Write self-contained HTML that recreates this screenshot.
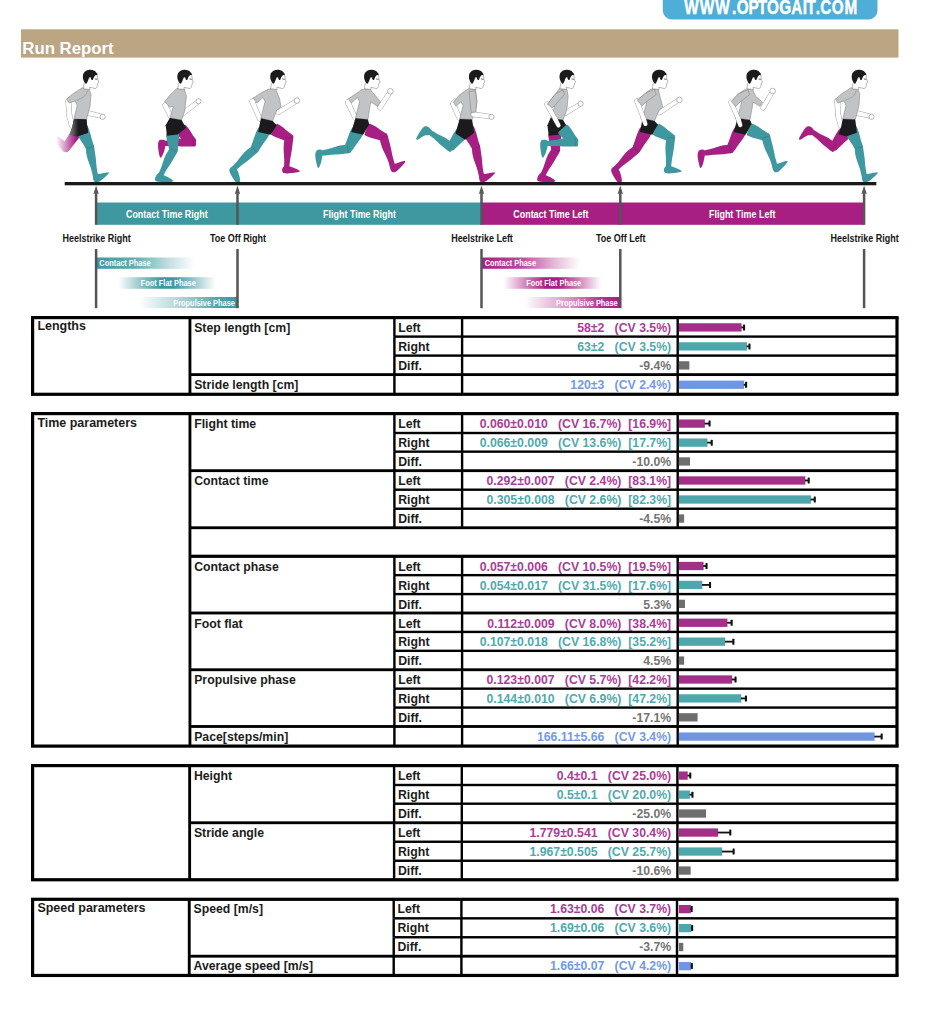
<!DOCTYPE html>
<html lang="en">
<head>
<meta charset="utf-8">
<title>Run Report</title>
<style>
html,body{margin:0;padding:0;background:#fff}
body{width:938px;height:1024px;position:relative;overflow:hidden;font-family:"Liberation Sans",sans-serif}
svg.g{position:absolute;left:0;top:0}
.t{position:absolute;white-space:pre;font-weight:bold;font-size:12.27px;line-height:19.03px;height:19.03px;color:#1c1c1c}
.v{left:462px;width:209.2px;text-align:right}
</style>
</head>
<body>
<svg class="g" width="938" height="1024" viewBox="0 0 938 1024">
<rect x="21" y="29.3" width="877.5" height="28.3" fill="#bba583"/>
<path d="M662.8 -5 H877.5 V10.2 A9 9 0 0 1 868.5 19.4 H671.8 A9 9 0 0 1 662.8 10.2 Z" fill="#4faed7"/>
<text transform="scale(0.78 1)" x="877.29 897.16 917.16 938.43 944.43 959.62 971.58 983.4 999.04 1014.33 1029.33 1034.14 1045.74 1051.51 1066.48 1082.61" y="13.9" font-family="Liberation Sans, sans-serif" font-weight="bold" font-size="19.6" fill="#fff" stroke="#fff" stroke-width="0.45">WWW.OPTOGAIT.COM</text>
<rect x="31" y="316" width="867.6" height="3.2" fill="#000"/>
<rect x="31" y="392.7" width="867.6" height="3.2" fill="#000"/>
<rect x="31" y="317.6" width="3.2" height="76.7" fill="#000"/>
<rect x="895.4" y="317.6" width="3.2" height="76.7" fill="#000"/>
<rect x="188.52" y="317.6" width="2.85" height="76.7" fill="#000"/>
<rect x="393.2" y="317.6" width="2.4" height="19" fill="#000"/>
<rect x="460.9" y="317.6" width="2.4" height="19" fill="#000"/>
<rect x="676.5" y="317.6" width="2.4" height="19" fill="#000"/>
<rect x="678.9" y="323.25" width="62.64" height="8.3" fill="#a42f89"/>
<rect x="741.24" y="326.5" width="2.96" height="1.8" fill="#111"/>
<rect x="743" y="324.4" width="2.1" height="6" fill="#111" rx="0.5"/>
<rect x="393.2" y="336.6" width="2.4" height="19" fill="#000"/>
<rect x="460.9" y="336.6" width="2.4" height="19" fill="#000"/>
<rect x="676.5" y="336.6" width="2.4" height="19" fill="#000"/>
<rect x="394.4" y="335.4" width="502.6" height="2.4" fill="#000"/>
<rect x="678.9" y="342.25" width="68.04" height="8.3" fill="#4da7ab"/>
<rect x="746.64" y="345.5" width="2.96" height="1.8" fill="#111"/>
<rect x="748.4" y="343.4" width="2.1" height="6" fill="#111" rx="0.5"/>
<rect x="393.2" y="355.6" width="2.4" height="19" fill="#000"/>
<rect x="460.9" y="355.6" width="2.4" height="19" fill="#000"/>
<rect x="676.5" y="355.6" width="2.4" height="19" fill="#000"/>
<rect x="394.4" y="354.4" width="502.6" height="2.4" fill="#000"/>
<rect x="678.9" y="361.25" width="10.46" height="8.3" fill="#6e6e6e"/>
<rect x="393.2" y="374.6" width="2.4" height="19.7" fill="#000"/>
<rect x="460.9" y="374.6" width="2.4" height="19.7" fill="#000"/>
<rect x="676.5" y="374.6" width="2.4" height="19.7" fill="#000"/>
<rect x="190.1" y="373.18" width="706.9" height="2.85" fill="#000"/>
<rect x="678.9" y="380.6" width="65.2" height="8.3" fill="#7096e3"/>
<rect x="743.8" y="383.85" width="2.42" height="1.8" fill="#111"/>
<rect x="745.02" y="381.75" width="2.1" height="6" fill="#111" rx="0.5"/>
<rect x="31" y="412" width="867.6" height="3.2" fill="#000"/>
<rect x="31" y="744.5" width="867.6" height="3.2" fill="#000"/>
<rect x="31" y="413.6" width="3.2" height="332.5" fill="#000"/>
<rect x="895.4" y="413.6" width="3.2" height="332.5" fill="#000"/>
<rect x="188.52" y="413.6" width="2.85" height="332.5" fill="#000"/>
<rect x="393.2" y="413.6" width="2.4" height="19.4" fill="#000"/>
<rect x="460.9" y="413.6" width="2.4" height="19.4" fill="#000"/>
<rect x="676.5" y="413.6" width="2.4" height="19.4" fill="#000"/>
<rect x="678.9" y="419.45" width="25.98" height="8.3" fill="#a42f89"/>
<rect x="704.58" y="422.7" width="5.13" height="1.8" fill="#111"/>
<rect x="708.51" y="420.6" width="2.1" height="6" fill="#111" rx="0.5"/>
<rect x="393.2" y="433" width="2.4" height="18.65" fill="#000"/>
<rect x="460.9" y="433" width="2.4" height="18.65" fill="#000"/>
<rect x="676.5" y="433" width="2.4" height="18.65" fill="#000"/>
<rect x="394.4" y="431.8" width="502.6" height="2.4" fill="#000"/>
<rect x="678.9" y="438.48" width="28.58" height="8.3" fill="#4da7ab"/>
<rect x="707.18" y="441.73" width="4.7" height="1.8" fill="#111"/>
<rect x="710.67" y="439.63" width="2.1" height="6" fill="#111" rx="0.5"/>
<rect x="393.2" y="451.65" width="2.4" height="19.02" fill="#000"/>
<rect x="460.9" y="451.65" width="2.4" height="19.02" fill="#000"/>
<rect x="676.5" y="451.65" width="2.4" height="19.02" fill="#000"/>
<rect x="394.4" y="450.45" width="502.6" height="2.4" fill="#000"/>
<rect x="678.9" y="457.31" width="11.1" height="8.3" fill="#6e6e6e"/>
<rect x="393.2" y="470.68" width="2.4" height="19.03" fill="#000"/>
<rect x="460.9" y="470.68" width="2.4" height="19.03" fill="#000"/>
<rect x="676.5" y="470.68" width="2.4" height="19.03" fill="#000"/>
<rect x="190.1" y="469.25" width="706.9" height="2.85" fill="#000"/>
<rect x="678.9" y="476.34" width="126.44" height="8.3" fill="#a42f89"/>
<rect x="805.04" y="479.59" width="3.83" height="1.8" fill="#111"/>
<rect x="807.67" y="477.49" width="2.1" height="6" fill="#111" rx="0.5"/>
<rect x="393.2" y="489.7" width="2.4" height="19.02" fill="#000"/>
<rect x="460.9" y="489.7" width="2.4" height="19.02" fill="#000"/>
<rect x="676.5" y="489.7" width="2.4" height="19.02" fill="#000"/>
<rect x="394.4" y="488.5" width="502.6" height="2.4" fill="#000"/>
<rect x="678.9" y="495.36" width="132.06" height="8.3" fill="#4da7ab"/>
<rect x="810.66" y="498.61" width="4.26" height="1.8" fill="#111"/>
<rect x="813.73" y="496.51" width="2.1" height="6" fill="#111" rx="0.5"/>
<rect x="393.2" y="508.73" width="2.4" height="19.02" fill="#000"/>
<rect x="460.9" y="508.73" width="2.4" height="19.02" fill="#000"/>
<rect x="676.5" y="508.73" width="2.4" height="19.02" fill="#000"/>
<rect x="394.4" y="507.53" width="502.6" height="2.4" fill="#000"/>
<rect x="678.9" y="514.39" width="5.22" height="8.3" fill="#6e6e6e"/>
<rect x="190.1" y="526.33" width="706.9" height="2.85" fill="#000"/>
<rect x="190.1" y="554.83" width="706.9" height="2.85" fill="#000"/>
<rect x="393.2" y="556.25" width="2.4" height="18.91" fill="#000"/>
<rect x="460.9" y="556.25" width="2.4" height="18.91" fill="#000"/>
<rect x="676.5" y="556.25" width="2.4" height="18.91" fill="#000"/>
<rect x="190.1" y="554.83" width="706.9" height="2.85" fill="#000"/>
<rect x="678.9" y="561.86" width="24.68" height="8.3" fill="#a42f89"/>
<rect x="703.28" y="565.11" width="3.4" height="1.8" fill="#111"/>
<rect x="705.48" y="563.01" width="2.1" height="6" fill="#111" rx="0.5"/>
<rect x="393.2" y="575.16" width="2.4" height="18.92" fill="#000"/>
<rect x="460.9" y="575.16" width="2.4" height="18.92" fill="#000"/>
<rect x="676.5" y="575.16" width="2.4" height="18.92" fill="#000"/>
<rect x="394.4" y="573.96" width="502.6" height="2.4" fill="#000"/>
<rect x="678.9" y="580.77" width="23.38" height="8.3" fill="#4da7ab"/>
<rect x="701.98" y="584.02" width="8.16" height="1.8" fill="#111"/>
<rect x="708.94" y="581.92" width="2.1" height="6" fill="#111" rx="0.5"/>
<rect x="393.2" y="594.08" width="2.4" height="18.91" fill="#000"/>
<rect x="460.9" y="594.08" width="2.4" height="18.91" fill="#000"/>
<rect x="676.5" y="594.08" width="2.4" height="18.91" fill="#000"/>
<rect x="394.4" y="592.88" width="502.6" height="2.4" fill="#000"/>
<rect x="678.9" y="599.69" width="6.07" height="8.3" fill="#6e6e6e"/>
<rect x="393.2" y="613" width="2.4" height="18.91" fill="#000"/>
<rect x="460.9" y="613" width="2.4" height="18.91" fill="#000"/>
<rect x="676.5" y="613" width="2.4" height="18.91" fill="#000"/>
<rect x="190.1" y="611.57" width="706.9" height="2.85" fill="#000"/>
<rect x="678.9" y="618.6" width="48.5" height="8.3" fill="#a42f89"/>
<rect x="727.1" y="621.85" width="4.7" height="1.8" fill="#111"/>
<rect x="730.59" y="619.75" width="2.1" height="6" fill="#111" rx="0.5"/>
<rect x="393.2" y="631.91" width="2.4" height="18.92" fill="#000"/>
<rect x="460.9" y="631.91" width="2.4" height="18.92" fill="#000"/>
<rect x="676.5" y="631.91" width="2.4" height="18.92" fill="#000"/>
<rect x="394.4" y="630.71" width="502.6" height="2.4" fill="#000"/>
<rect x="678.9" y="637.52" width="46.33" height="8.3" fill="#4da7ab"/>
<rect x="724.93" y="640.77" width="8.59" height="1.8" fill="#111"/>
<rect x="732.32" y="638.67" width="2.1" height="6" fill="#111" rx="0.5"/>
<rect x="393.2" y="650.83" width="2.4" height="18.91" fill="#000"/>
<rect x="460.9" y="650.83" width="2.4" height="18.91" fill="#000"/>
<rect x="676.5" y="650.83" width="2.4" height="18.91" fill="#000"/>
<rect x="394.4" y="649.62" width="502.6" height="2.4" fill="#000"/>
<rect x="678.9" y="656.43" width="5.22" height="8.3" fill="#6e6e6e"/>
<rect x="393.2" y="669.74" width="2.4" height="18.91" fill="#000"/>
<rect x="460.9" y="669.74" width="2.4" height="18.91" fill="#000"/>
<rect x="676.5" y="669.74" width="2.4" height="18.91" fill="#000"/>
<rect x="190.1" y="668.32" width="706.9" height="2.85" fill="#000"/>
<rect x="678.9" y="675.35" width="53.26" height="8.3" fill="#a42f89"/>
<rect x="731.86" y="678.6" width="3.83" height="1.8" fill="#111"/>
<rect x="734.49" y="676.5" width="2.1" height="6" fill="#111" rx="0.5"/>
<rect x="393.2" y="688.65" width="2.4" height="18.91" fill="#000"/>
<rect x="460.9" y="688.65" width="2.4" height="18.91" fill="#000"/>
<rect x="676.5" y="688.65" width="2.4" height="18.91" fill="#000"/>
<rect x="394.4" y="687.45" width="502.6" height="2.4" fill="#000"/>
<rect x="678.9" y="694.26" width="62.35" height="8.3" fill="#4da7ab"/>
<rect x="740.95" y="697.51" width="5.13" height="1.8" fill="#111"/>
<rect x="744.88" y="695.41" width="2.1" height="6" fill="#111" rx="0.5"/>
<rect x="393.2" y="707.57" width="2.4" height="18.92" fill="#000"/>
<rect x="460.9" y="707.57" width="2.4" height="18.92" fill="#000"/>
<rect x="676.5" y="707.57" width="2.4" height="18.92" fill="#000"/>
<rect x="394.4" y="706.37" width="502.6" height="2.4" fill="#000"/>
<rect x="678.9" y="713.18" width="18.7" height="8.3" fill="#6e6e6e"/>
<rect x="393.2" y="726.49" width="2.4" height="19.62" fill="#000"/>
<rect x="460.9" y="726.49" width="2.4" height="19.62" fill="#000"/>
<rect x="676.5" y="726.49" width="2.4" height="19.62" fill="#000"/>
<rect x="190.1" y="725.06" width="706.9" height="2.85" fill="#000"/>
<rect x="678.9" y="732.44" width="195.7" height="8.3" fill="#7096e3"/>
<rect x="874.3" y="735.69" width="7.5" height="1.8" fill="#111"/>
<rect x="880.6" y="733.59" width="2.1" height="6" fill="#111" rx="0.5"/>
<rect x="31" y="764" width="867.6" height="3.2" fill="#000"/>
<rect x="31" y="878.15" width="867.6" height="3.2" fill="#000"/>
<rect x="31" y="765.6" width="3.2" height="114.15" fill="#000"/>
<rect x="895.4" y="765.6" width="3.2" height="114.15" fill="#000"/>
<rect x="188.22" y="765.6" width="2.85" height="114.15" fill="#000"/>
<rect x="392.9" y="765.6" width="2.4" height="19.4" fill="#000"/>
<rect x="460.6" y="765.6" width="2.4" height="19.4" fill="#000"/>
<rect x="676.2" y="765.6" width="2.4" height="19.4" fill="#000"/>
<rect x="678.9" y="771.45" width="8.8" height="8.3" fill="#a42f89"/>
<rect x="687.4" y="774.7" width="3" height="1.8" fill="#111"/>
<rect x="689.2" y="772.6" width="2.1" height="6" fill="#111" rx="0.5"/>
<rect x="392.9" y="785" width="2.4" height="18.7" fill="#000"/>
<rect x="460.6" y="785" width="2.4" height="18.7" fill="#000"/>
<rect x="676.2" y="785" width="2.4" height="18.7" fill="#000"/>
<rect x="394.4" y="783.8" width="502.6" height="2.4" fill="#000"/>
<rect x="678.9" y="790.5" width="11" height="8.3" fill="#4da7ab"/>
<rect x="689.6" y="793.75" width="3" height="1.8" fill="#111"/>
<rect x="691.4" y="791.65" width="2.1" height="6" fill="#111" rx="0.5"/>
<rect x="392.9" y="803.7" width="2.4" height="19.05" fill="#000"/>
<rect x="460.6" y="803.7" width="2.4" height="19.05" fill="#000"/>
<rect x="676.2" y="803.7" width="2.4" height="19.05" fill="#000"/>
<rect x="394.4" y="802.5" width="502.6" height="2.4" fill="#000"/>
<rect x="678.9" y="809.38" width="27.15" height="8.3" fill="#6e6e6e"/>
<rect x="392.9" y="822.75" width="2.4" height="19" fill="#000"/>
<rect x="460.6" y="822.75" width="2.4" height="19" fill="#000"/>
<rect x="676.2" y="822.75" width="2.4" height="19" fill="#000"/>
<rect x="190.1" y="821.33" width="706.9" height="2.85" fill="#000"/>
<rect x="678.9" y="828.4" width="39.14" height="8.3" fill="#a42f89"/>
<rect x="717.74" y="831.65" width="12.7" height="1.8" fill="#111"/>
<rect x="729.24" y="829.55" width="2.1" height="6" fill="#111" rx="0.5"/>
<rect x="392.9" y="841.75" width="2.4" height="19" fill="#000"/>
<rect x="460.6" y="841.75" width="2.4" height="19" fill="#000"/>
<rect x="676.2" y="841.75" width="2.4" height="19" fill="#000"/>
<rect x="394.4" y="840.55" width="502.6" height="2.4" fill="#000"/>
<rect x="678.9" y="847.4" width="43.27" height="8.3" fill="#4da7ab"/>
<rect x="721.87" y="850.65" width="11.91" height="1.8" fill="#111"/>
<rect x="732.58" y="848.55" width="2.1" height="6" fill="#111" rx="0.5"/>
<rect x="392.9" y="860.75" width="2.4" height="19" fill="#000"/>
<rect x="460.6" y="860.75" width="2.4" height="19" fill="#000"/>
<rect x="676.2" y="860.75" width="2.4" height="19" fill="#000"/>
<rect x="394.4" y="859.55" width="502.6" height="2.4" fill="#000"/>
<rect x="678.9" y="866.4" width="11.74" height="8.3" fill="#6e6e6e"/>
<rect x="31" y="897.7" width="867.6" height="3.2" fill="#000"/>
<rect x="31" y="973.85" width="867.6" height="3.2" fill="#000"/>
<rect x="31" y="899.3" width="3.2" height="76.15" fill="#000"/>
<rect x="895.4" y="899.3" width="3.2" height="76.15" fill="#000"/>
<rect x="187.82" y="899.3" width="2.85" height="76.15" fill="#000"/>
<rect x="392.5" y="899.3" width="2.4" height="19.03" fill="#000"/>
<rect x="460.2" y="899.3" width="2.4" height="19.03" fill="#000"/>
<rect x="675.8" y="899.3" width="2.4" height="19.03" fill="#000"/>
<rect x="678.9" y="904.97" width="11.98" height="8.3" fill="#a42f89"/>
<rect x="690.58" y="908.22" width="1.24" height="1.8" fill="#111"/>
<rect x="690.62" y="906.12" width="2.1" height="6" fill="#111" rx="0.5"/>
<rect x="392.5" y="918.33" width="2.4" height="18.93" fill="#000"/>
<rect x="460.2" y="918.33" width="2.4" height="18.93" fill="#000"/>
<rect x="675.8" y="918.33" width="2.4" height="18.93" fill="#000"/>
<rect x="394.4" y="917.13" width="502.6" height="2.4" fill="#000"/>
<rect x="678.9" y="923.95" width="12.42" height="8.3" fill="#4da7ab"/>
<rect x="691.02" y="927.2" width="1.24" height="1.8" fill="#111"/>
<rect x="691.06" y="925.1" width="2.1" height="6" fill="#111" rx="0.5"/>
<rect x="392.5" y="937.26" width="2.4" height="18.94" fill="#000"/>
<rect x="460.2" y="937.26" width="2.4" height="18.94" fill="#000"/>
<rect x="675.8" y="937.26" width="2.4" height="18.94" fill="#000"/>
<rect x="394.4" y="936.06" width="502.6" height="2.4" fill="#000"/>
<rect x="678.9" y="942.88" width="4.36" height="8.3" fill="#6e6e6e"/>
<rect x="392.5" y="956.2" width="2.4" height="19.25" fill="#000"/>
<rect x="460.2" y="956.2" width="2.4" height="19.25" fill="#000"/>
<rect x="675.8" y="956.2" width="2.4" height="19.25" fill="#000"/>
<rect x="190.1" y="954.78" width="706.9" height="2.85" fill="#000"/>
<rect x="678.9" y="961.98" width="12.2" height="8.3" fill="#7096e3"/>
<rect x="690.8" y="965.23" width="1.2" height="1.8" fill="#111"/>
<rect x="690.8" y="963.12" width="2.1" height="6" fill="#111" rx="0.5"/>
<defs><linearGradient id="gT1" x1="0" x2="1"><stop offset="0" stop-color="#3f98a0"/><stop offset="0.4" stop-color="#3f98a0" stop-opacity="0.8"/><stop offset="0.75" stop-color="#3f98a0" stop-opacity="0.3"/><stop offset="1" stop-color="#3f98a0" stop-opacity="0"/></linearGradient><linearGradient id="gT2" x1="0" x2="1"><stop offset="0" stop-color="#3f98a0" stop-opacity="0"/><stop offset="0.25" stop-color="#3f98a0" stop-opacity="0.6"/><stop offset="0.44" stop-color="#3f98a0"/><stop offset="0.56" stop-color="#3f98a0"/><stop offset="0.75" stop-color="#3f98a0" stop-opacity="0.6"/><stop offset="1" stop-color="#3f98a0" stop-opacity="0"/></linearGradient><linearGradient id="gT3" x1="0" x2="1"><stop offset="0" stop-color="#3f98a0" stop-opacity="0"/><stop offset="0.5" stop-color="#3f98a0" stop-opacity="0.5"/><stop offset="0.8" stop-color="#3f98a0" stop-opacity="0.9"/><stop offset="1" stop-color="#3f98a0"/></linearGradient><linearGradient id="gM1" x1="0" x2="1"><stop offset="0" stop-color="#a71f82"/><stop offset="0.4" stop-color="#a71f82" stop-opacity="0.8"/><stop offset="0.75" stop-color="#a71f82" stop-opacity="0.3"/><stop offset="1" stop-color="#a71f82" stop-opacity="0"/></linearGradient><linearGradient id="gM2" x1="0" x2="1"><stop offset="0" stop-color="#a71f82" stop-opacity="0"/><stop offset="0.25" stop-color="#a71f82" stop-opacity="0.6"/><stop offset="0.44" stop-color="#a71f82"/><stop offset="0.56" stop-color="#a71f82"/><stop offset="0.75" stop-color="#a71f82" stop-opacity="0.6"/><stop offset="1" stop-color="#a71f82" stop-opacity="0"/></linearGradient><linearGradient id="gM3" x1="0" x2="1"><stop offset="0" stop-color="#a71f82" stop-opacity="0"/><stop offset="0.5" stop-color="#a71f82" stop-opacity="0.5"/><stop offset="0.8" stop-color="#a71f82" stop-opacity="0.9"/><stop offset="1" stop-color="#a71f82"/></linearGradient><linearGradient id="gFade" gradientUnits="userSpaceOnUse" x1="56" x2="76"><stop offset="0" stop-color="#000"/><stop offset="1" stop-color="#fff"/></linearGradient><mask id="fadeA" maskUnits="userSpaceOnUse" x="40" y="120" width="60" height="50"><rect x="40" y="120" width="60" height="50" fill="url(#gFade)"/></mask></defs>
<rect x="96.1" y="202.5" width="385.4" height="22.3" fill="#3f98a0"/>
<rect x="481.5" y="202.5" width="382.6" height="22.3" fill="#a71f82"/>
<rect x="96.1" y="257.5" width="98.5" height="11.3" fill="url(#gT1)"/><rect x="118.1" y="277.2" width="97.5" height="11.6" fill="url(#gT2)"/><rect x="138.6" y="297" width="98.9" height="11" fill="url(#gT3)"/>
<rect x="481.5" y="257.5" width="98.5" height="11.3" fill="url(#gM1)"/><rect x="503.5" y="277.2" width="97.5" height="11.6" fill="url(#gM2)"/><rect x="524" y="297" width="96.3" height="11" fill="url(#gM3)"/>
<rect x="94.85" y="191" width="2.5" height="33.8" fill="#555557"/>
<rect x="94.85" y="249" width="2.5" height="59.2" fill="#555557"/>
<path d="M96.1 185.5 l2.7 8.6 l-2.7 -1.2 l-2.7 1.2 Z" fill="#59595b"/>
<rect x="236.25" y="191" width="2.5" height="33.8" fill="#555557"/>
<rect x="236.25" y="249" width="2.5" height="59.2" fill="#555557"/>
<path d="M237.5 185.5 l2.7 8.6 l-2.7 -1.2 l-2.7 1.2 Z" fill="#59595b"/>
<rect x="480.25" y="191" width="2.5" height="33.8" fill="#555557"/>
<rect x="480.25" y="249" width="2.5" height="59.2" fill="#555557"/>
<path d="M481.5 185.5 l2.7 8.6 l-2.7 -1.2 l-2.7 1.2 Z" fill="#59595b"/>
<rect x="619.05" y="191" width="2.5" height="33.8" fill="#555557"/>
<rect x="619.05" y="249" width="2.5" height="59.2" fill="#555557"/>
<path d="M620.3 185.5 l2.7 8.6 l-2.7 -1.2 l-2.7 1.2 Z" fill="#59595b"/>
<rect x="862.85" y="191" width="2.5" height="33.8" fill="#555557"/>
<rect x="862.85" y="249" width="2.5" height="59.2" fill="#555557"/>
<path d="M864.1 185.5 l2.7 8.6 l-2.7 -1.2 l-2.7 1.2 Z" fill="#59595b"/>
<path d="M87.28 115.18 L100.51 118.1 A2.02 2.02 0 0 0 101.46 114.17 L88.36 110.71 A2.3 2.3 0 0 0 87.28 115.18 Z" fill="#fff" stroke="#707070" stroke-width="0.5"/><path d="M87.33 114.94 L100.57 117.86 A1.77 1.77 0 0 0 101.4 114.41 L88.3 110.95 A2.05 2.05 0 0 0 87.33 114.94 Z" fill="#fff"/><circle cx="102.65" cy="116.83" r="2.6" fill="#fff" stroke="#707070" stroke-width="0.5"/><g mask="url(#fadeA)"><path d="M71.04 131.14 L62.16 145.57 A4.25 4.25 0 0 0 69.12 150.45 L79.64 137.16 A5.25 5.25 0 0 0 71.04 131.14 Z" fill="#a71f82"/><path d="M68.63 144.53 L58.88 137.01 A3.5 3.5 0 0 0 54.38 142.38 L63.49 150.66 A4 4 0 0 0 68.63 144.53 Z" fill="#a71f82"/></g><path d="M76.76 129.93 C75.19 131.06 76.05 131.31 76.43 132.61 C76.82 133.92 78.02 135.95 79.08 137.77 C80.13 139.59 81.63 141.74 82.76 143.52 C83.88 145.31 84.95 147.36 85.86 148.48 C86.76 149.59 86.89 150.3 88.16 150.19 C89.43 150.08 92.54 148.68 93.45 147.82 C94.36 146.95 93.87 146.39 93.61 145 C93.35 143.6 92.46 141.46 91.88 139.43 C91.3 137.4 90.74 134.83 90.12 132.82 C89.49 130.81 88.82 128.54 88.11 127.37 C87.41 126.21 87.78 125.41 85.89 125.83 C84 126.26 78.34 128.8 76.76 129.93 Z" fill="#3f98a0"/><path d="M86.63 145.54 C85.5 146.21 85.98 146.94 85.95 148.4 C85.92 149.86 86.12 152.32 86.46 154.3 C86.8 156.28 87.28 158.01 88 160.28 C88.72 162.56 90.02 165.58 90.77 167.94 C91.52 170.3 92.06 173.06 92.51 174.43 C92.96 175.8 92.6 176.01 93.45 176.16 C94.29 176.32 96.88 175.83 97.58 175.38 C98.27 174.93 97.79 174.89 97.62 173.46 C97.45 172.04 96.86 169.29 96.57 166.84 C96.27 164.4 96.12 161.15 95.86 158.79 C95.6 156.43 95.3 154.67 95 152.68 C94.71 150.69 94.48 148.23 94.1 146.85 C93.72 145.47 93.97 144.6 92.72 144.38 C91.47 144.17 87.76 144.87 86.63 145.54 Z" fill="#3f98a0"/><path d="M93.36 172.54 C94.15 171.48 95.97 173.93 98.21 173.93 C100.45 173.93 105.03 172.64 106.81 172.54 C108.58 172.45 109.74 172.13 108.88 173.37 C108.03 174.62 103.73 178.5 101.68 180.03 C99.62 181.55 97.91 182.48 96.55 182.52 C95.19 182.57 94.03 181.97 93.5 180.3 C92.97 178.64 92.58 173.61 93.36 172.54 Z" fill="#3f98a0"/><path d="M86.64 148.27 L93.71 146.93" stroke="#2c7178" stroke-width="0.5" fill="none"/><path d="M65.82 101.06 L67.1 115.59 A2.29 2.29 0 0 0 71.67 115.29 L71.01 100.71 A2.6 2.6 0 0 0 65.82 101.06 Z" fill="#fff" stroke="#707070" stroke-width="0.5"/><path d="M66.86 116.05 L69.65 126.37 A2.29 2.29 0 0 0 74.1 125.3 L71.91 114.83 A2.6 2.6 0 0 0 66.86 116.05 Z" fill="#fff" stroke="#707070" stroke-width="0.5"/><path d="M66.07 101.04 L67.35 115.58 A2.04 2.04 0 0 0 71.42 115.3 L70.76 100.73 A2.35 2.35 0 0 0 66.07 101.04 Z" fill="#fff"/><path d="M67.1 115.99 L69.9 126.31 A2.04 2.04 0 0 0 73.86 125.36 L71.67 114.89 A2.35 2.35 0 0 0 67.1 115.99 Z" fill="#fff"/><path d="M82.27 87.72 L88.79 88.41 L91 93.96 L90.17 105.74 L86.43 119.6 L73.96 118.91 L77.14 105.74 L75.34 100.89 L69.11 102.97 L66.61 99.09 L72.57 93.96 Z" fill="#c2c3c5" stroke="#77787a" stroke-width="0.5" stroke-linejoin="round"/><path d="M87.54 90.21 Q86.85 97.14 76.31 100.47" stroke="#8c8d8f" stroke-width="0.6" fill="none"/><path d="M73.96 118.91 L86.43 119.6 L88.09 132.77 L77.14 136.51 L69.8 134.15 L72.16 127.22 Z" fill="#1b1b1d"/><linearGradient id="gSh" gradientUnits="userSpaceOnUse" x1="69.38" y1="0" x2="78.12" y2="0"><stop offset="0" stop-color="#8a8a8c"/><stop offset="1" stop-color="#1b1b1d"/></linearGradient><path d="M73.96 118.91 L86.43 119.6 L88.09 132.77 L77.14 136.51 L69.8 134.15 L72.16 127.22 Z" fill="url(#gSh)"/><path d="M93.67 74.35 L97.37 75.15 L97.77 78.95 L98.87 82.35 L97.57 83.25 L97.77 84.95 L97.07 85.55 L97.17 86.95 L95.57 88.65 L92.57 87.95 L89.57 87.35 L89.87 89.55 L83.27 88.75 L83.97 83.75 L85.57 81.85 L89.17 78.35 Z" fill="#fff" stroke="#6e6e6e" stroke-width="0.5" stroke-linejoin="round"/><path d="M82.87 77.15 C82.87 75.95 82.96 74.27 83.57 73.15 C84.19 72.04 85.44 71 86.57 70.45 C87.71 69.9 89.07 69.8 90.37 69.85 C91.67 69.9 93.24 70.14 94.37 70.75 C95.51 71.37 96.69 72.89 97.17 73.55 C97.66 74.22 97.57 74.45 97.27 74.75 C96.97 75.05 95.96 74.89 95.37 75.35 C94.79 75.82 94.21 76.79 93.77 77.55 C93.34 78.32 93.17 79.62 92.77 79.95 C92.37 80.29 91.74 80.02 91.37 79.55 C91.01 79.09 90.97 77.42 90.57 77.15 C90.17 76.89 89.41 77.34 88.97 77.95 C88.54 78.57 88.37 79.92 87.97 80.85 C87.57 81.79 87.07 83.2 86.57 83.55 C86.07 83.9 85.47 83.49 84.97 82.95 C84.47 82.42 83.92 81.32 83.57 80.35 C83.22 79.39 82.87 78.35 82.87 77.15 Z" fill="#1b1b1d"/><path d="M94.97 78.95 l2.4 0.4" stroke="#444" stroke-width="0.8" fill="none"/>
<path d="M166.65 99.96 L163.67 103.62 A2.11 2.11 0 0 0 166.78 106.47 L170.18 103.2 A2.4 2.4 0 0 0 166.65 99.96 Z" fill="#fff" stroke="#707070" stroke-width="0.5"/><path d="M163.04 106.04 L168.57 117.43 A2.11 2.11 0 0 0 172.41 115.67 L167.41 104.05 A2.4 2.4 0 0 0 163.04 106.04 Z" fill="#fff" stroke="#707070" stroke-width="0.5"/><path d="M166.83 100.12 L163.85 103.78 A1.86 1.86 0 0 0 166.6 106.31 L170 103.04 A2.15 2.15 0 0 0 166.83 100.12 Z" fill="#fff"/><path d="M163.27 105.94 L168.8 117.32 A1.86 1.86 0 0 0 172.19 115.77 L167.18 104.15 A2.15 2.15 0 0 0 163.27 105.94 Z" fill="#fff"/><path d="M182.97 133.46 L193.36 143.16 L179.5 144.82 L180.19 141.08 Z" fill="#a71f82"/><path d="M176.52 131.86 C175.34 133.39 176.19 133.31 176.85 134.3 C177.51 135.3 179.09 136.64 180.48 137.84 C181.87 139.05 183.74 140.39 185.2 141.54 C186.65 142.69 188.11 144.09 189.2 144.74 C190.28 145.39 190.58 145.96 191.71 145.42 C192.84 144.88 195.37 142.58 196 141.51 C196.63 140.44 196.05 140.13 195.48 139.01 C194.91 137.9 193.6 136.35 192.59 134.8 C191.58 133.25 190.47 131.21 189.42 129.69 C188.38 128.17 187.23 126.44 186.31 125.68 C185.39 124.92 185.54 124.1 183.91 125.13 C182.28 126.16 177.7 130.33 176.52 131.86 Z" fill="#a71f82"/><path d="M195.55 139.26 C195.04 138.04 194.24 138.41 192.77 138.17 C191.3 137.93 188.79 137.77 186.74 137.82 C184.69 137.86 182.88 138.09 180.48 138.47 C178.08 138.85 174.83 139.7 172.34 140.1 C169.85 140.5 166.98 140.64 165.53 140.88 C164.08 141.12 163.93 140.74 163.64 141.56 C163.36 142.37 163.47 145 163.81 145.75 C164.16 146.5 164.28 146.03 165.74 146.07 C167.2 146.11 170.07 145.93 172.58 146 C175.09 146.06 178.38 146.38 180.8 146.46 C183.22 146.55 185.04 146.51 187.09 146.51 C189.14 146.51 191.66 146.64 193.11 146.46 C194.56 146.29 195.39 146.65 195.8 145.45 C196.21 144.25 196.06 140.47 195.55 139.26 Z" fill="#a71f82"/><path d="M165.64 140.8 C164.72 139.65 160.95 139.26 159.68 140.11 C158.41 140.97 157.95 143.07 158.02 145.93 C158.09 148.8 159.29 155.87 160.1 157.3 C160.91 158.73 162.01 156.23 162.87 154.53 C163.72 152.82 164.76 149.33 165.23 147.04 C165.69 144.75 166.57 141.96 165.64 140.8 Z" fill="#a71f82"/><path d="M192.8 138.87 L193.09 146.06" stroke="#7a155f" stroke-width="0.5" fill="none"/><path d="M167.45 133.34 C165.58 133.78 166.29 134.2 166.19 135.3 C166.08 136.4 166.48 138.27 166.82 139.94 C167.16 141.6 167.79 143.64 168.2 145.3 C168.62 146.96 168.89 148.81 169.34 149.9 C169.78 150.98 169.65 151.56 170.88 151.82 C172.1 152.07 175.5 151.82 176.66 151.4 C177.82 150.98 177.56 150.43 177.81 149.29 C178.07 148.16 178 146.29 178.18 144.59 C178.36 142.88 178.76 140.77 178.89 139.07 C179.02 137.37 179.2 135.46 178.95 134.39 C178.71 133.31 179.34 132.8 177.43 132.63 C175.51 132.45 169.32 132.89 167.45 133.34 Z" fill="#3f98a0"/><path d="M172.22 146.46 C170.91 146.3 170.82 147.2 169.87 148.38 C168.92 149.55 167.5 151.69 166.5 153.53 C165.5 155.36 164.78 157.07 163.89 159.39 C163 161.7 162.09 164.99 161.18 167.39 C160.26 169.79 158.92 172.39 158.4 173.79 C157.87 175.19 157.47 175.13 158.03 175.79 C158.59 176.45 160.92 177.67 161.75 177.74 C162.58 177.8 162.23 177.47 163.01 176.2 C163.78 174.93 165.08 172.31 166.41 170.12 C167.73 167.94 169.68 165.18 170.98 163.09 C172.28 161 173.17 159.37 174.21 157.55 C175.25 155.74 176.64 153.59 177.23 152.22 C177.81 150.85 178.55 150.29 177.72 149.34 C176.88 148.38 173.53 146.62 172.22 146.46 Z" fill="#3f98a0"/><path d="M158.71 172.96 C157.28 173.37 155.55 176.4 155.25 177.81 C154.95 179.22 154.25 180.72 156.91 181.41 C159.57 182.11 168.69 182.29 171.19 181.97 C173.68 181.64 173.1 180.58 171.88 179.47 C170.65 178.36 166.03 176.4 163.84 175.32 C161.64 174.23 160.14 172.54 158.71 172.96 Z" fill="#3f98a0"/><path d="M170.49 148.7 L176.87 152.03" stroke="#2c7178" stroke-width="0.5" fill="none"/><path d="M183.03 116.25 L198.79 103.96 A2.11 2.11 0 0 0 196.24 100.59 L180.13 112.42 A2.4 2.4 0 0 0 183.03 116.25 Z" fill="#fff" stroke="#707070" stroke-width="0.5"/><path d="M182.88 116.05 L198.64 103.76 A1.86 1.86 0 0 0 196.4 100.79 L180.28 112.62 A2.15 2.15 0 0 0 182.88 116.05 Z" fill="#fff"/><circle cx="198.49" cy="101.3" r="2.6" fill="#fff" stroke="#707070" stroke-width="0.5"/><path d="M176.73 88.41 L184.35 89.11 L186.43 96.04 L184.63 111.28 L181.58 119.88 L169.8 117.93 L173.26 106.43 L169.8 107.12 L164.67 101.58 L169.8 95.34 Z" fill="#c2c3c5" stroke="#77787a" stroke-width="0.5" stroke-linejoin="round"/><path d="M169.8 117.93 L181.58 119.88 L186.02 127.91 L177.7 134.43 L167.03 135.81 L165.64 125.14 Z" fill="#1b1b1d"/><path d="M188.13 74.35 L191.83 75.15 L192.23 78.95 L193.33 82.35 L192.03 83.25 L192.23 84.95 L191.53 85.55 L191.63 86.95 L190.03 88.65 L187.03 87.95 L184.03 87.35 L184.33 89.55 L177.73 88.75 L178.43 83.75 L180.03 81.85 L183.63 78.35 Z" fill="#fff" stroke="#6e6e6e" stroke-width="0.5" stroke-linejoin="round"/><path d="M177.33 77.15 C177.33 75.95 177.41 74.27 178.03 73.15 C178.65 72.04 179.9 71 181.03 70.45 C182.16 69.9 183.53 69.8 184.83 69.85 C186.13 69.9 187.7 70.14 188.83 70.75 C189.96 71.37 191.15 72.89 191.63 73.55 C192.11 74.22 192.03 74.45 191.73 74.75 C191.43 75.05 190.41 74.89 189.83 75.35 C189.25 75.82 188.66 76.79 188.23 77.55 C187.8 78.32 187.63 79.62 187.23 79.95 C186.83 80.29 186.2 80.02 185.83 79.55 C185.46 79.09 185.43 77.42 185.03 77.15 C184.63 76.89 183.86 77.34 183.43 77.95 C183 78.57 182.83 79.92 182.43 80.85 C182.03 81.79 181.53 83.2 181.03 83.55 C180.53 83.9 179.93 83.49 179.43 82.95 C178.93 82.42 178.38 81.32 178.03 80.35 C177.68 79.39 177.33 78.35 177.33 77.15 Z" fill="#1b1b1d"/><path d="M189.43 78.95 l2.4 0.4" stroke="#444" stroke-width="0.8" fill="none"/>
<path d="M253.44 98.01 L251.09 99.66 A2.2 2.2 0 0 0 253.22 103.5 L255.86 102.38 A2.5 2.5 0 0 0 253.44 98.01 Z" fill="#fff" stroke="#707070" stroke-width="0.5"/><path d="M249.86 102.58 L257.9 120.2 A2.2 2.2 0 0 0 261.93 118.44 L254.45 100.58 A2.5 2.5 0 0 0 249.86 102.58 Z" fill="#fff" stroke="#707070" stroke-width="0.5"/><path d="M253.56 98.23 L251.21 99.88 A1.95 1.95 0 0 0 253.1 103.28 L255.74 102.16 A2.25 2.25 0 0 0 253.56 98.23 Z" fill="#fff"/><path d="M250.09 102.48 L258.13 120.1 A1.95 1.95 0 0 0 261.7 118.54 L254.22 100.68 A2.25 2.25 0 0 0 250.09 102.48 Z" fill="#fff"/><path d="M271.37 133.46 C270.73 135.28 271.47 134.91 272.36 135.6 C273.24 136.3 275.05 136.99 276.66 137.62 C278.26 138.26 280.35 138.85 281.99 139.42 C283.64 139.98 285.36 140.78 286.53 141 C287.7 141.23 288.13 141.65 289.01 140.77 C289.89 139.88 291.54 136.89 291.81 135.68 C292.08 134.48 291.46 134.39 290.63 133.55 C289.8 132.72 288.17 131.74 286.81 130.65 C285.45 129.57 283.87 128.07 282.49 127.02 C281.11 125.98 279.57 124.77 278.52 124.39 C277.47 124 277.38 123.18 276.19 124.7 C274.99 126.21 272.01 131.64 271.37 133.46 Z" fill="#a71f82"/><path d="M286.46 134.42 C285.19 134.8 285.45 135.71 285.02 137.25 C284.58 138.79 284.09 141.46 283.87 143.67 C283.65 145.87 283.63 147.84 283.69 150.46 C283.76 153.08 284.17 156.66 284.24 159.38 C284.31 162.1 284.07 165.19 284.11 166.77 C284.16 168.35 283.77 168.47 284.54 168.88 C285.31 169.29 287.93 169.51 288.72 169.23 C289.52 168.96 289.06 168.77 289.3 167.21 C289.53 165.65 289.72 162.56 290.12 159.88 C290.51 157.2 291.26 153.71 291.66 151.13 C292.07 148.55 292.27 146.6 292.54 144.4 C292.81 142.21 293.27 139.53 293.29 137.95 C293.3 136.38 293.78 135.53 292.64 134.94 C291.5 134.35 287.73 134.03 286.46 134.42 Z" fill="#a71f82"/><path d="M284.45 166.03 C283.13 166.65 281.98 168.96 282.09 170.19 C282.21 171.41 282.44 173.07 285.14 173.37 C287.84 173.68 296.05 172.52 298.31 171.99 C300.57 171.46 300.11 171.11 298.72 170.19 C297.34 169.26 292.37 167.14 289.99 166.44 C287.61 165.75 285.77 165.41 284.45 166.03 Z" fill="#a71f82"/><path d="M285.71 137.31 L292.89 137.92" stroke="#7a155f" stroke-width="0.5" fill="none"/><path d="M259.84 127.71 C257.96 127.21 258.3 128.05 257.52 129.21 C256.73 130.37 255.89 132.65 255.13 134.67 C254.36 136.69 253.61 139.27 252.92 141.32 C252.22 143.38 251.28 145.57 250.97 147 C250.66 148.44 250.19 149.01 251.07 149.94 C251.95 150.86 255.01 152.38 256.26 152.53 C257.51 152.67 257.64 151.93 258.57 150.8 C259.51 149.68 260.63 147.58 261.86 145.79 C263.09 144.01 264.76 141.89 265.95 140.08 C267.13 138.27 268.5 136.25 268.97 134.93 C269.44 133.62 270.3 133.38 268.78 132.18 C267.26 130.97 261.71 128.2 259.84 127.71 Z" fill="#3f98a0"/><path d="M254.3 145.67 C253.13 145.07 252.75 145.88 251.47 146.64 C250.18 147.41 248.15 148.92 246.61 150.29 C245.07 151.66 243.82 153.01 242.22 154.86 C240.63 156.7 238.68 159.46 237.03 161.38 C235.38 163.31 233.27 165.27 232.31 166.4 C231.36 167.52 231 167.33 231.3 168.14 C231.61 168.94 233.39 170.88 234.14 171.23 C234.9 171.58 234.68 171.14 235.83 170.23 C236.97 169.31 239.05 167.31 241.02 165.73 C242.99 164.15 245.72 162.25 247.63 160.75 C249.54 159.24 250.92 158.03 252.49 156.7 C254.06 155.37 256.08 153.84 257.08 152.76 C258.08 151.68 258.96 151.42 258.49 150.24 C258.03 149.06 255.47 146.27 254.3 145.67 Z" fill="#3f98a0"/><path d="M233.17 166.44 C231.78 166.21 229.77 168.06 229.42 169.49 C229.08 170.93 229.93 172.87 231.09 175.04 C232.24 177.21 234.85 181.55 236.35 182.52 C237.86 183.49 239.87 182.8 240.1 180.86 C240.33 178.92 238.9 173.28 237.74 170.88 C236.59 168.48 234.55 166.68 233.17 166.44 Z" fill="#3f98a0"/><path d="M251.94 147.16 L256.81 152.47" stroke="#2c7178" stroke-width="0.5" fill="none"/><path d="M279.48 114.43 L296.66 103.37 A2.11 2.11 0 0 0 294.42 99.79 L276.94 110.35 A2.4 2.4 0 0 0 279.48 114.43 Z" fill="#fff" stroke="#707070" stroke-width="0.5"/><path d="M279.35 114.21 L296.52 103.16 A1.86 1.86 0 0 0 294.55 100 L277.07 110.57 A2.15 2.15 0 0 0 279.35 114.21 Z" fill="#fff"/><circle cx="296.92" cy="100.61" r="2.8" fill="#fff" stroke="#707070" stroke-width="0.5"/><path d="M268.51 89.11 L275.44 88.41 L279.6 98.81 L280.98 107.12 L276.83 109.9 L272.67 120.98 L260.89 118.21 L265.05 101.58 L262.97 97.42 L256.73 102.97 L253.26 98.12 L261.58 92.57 Z" fill="#c2c3c5" stroke="#77787a" stroke-width="0.5" stroke-linejoin="round"/><path d="M260.89 118.21 L272.67 120.98 L276.83 125.14 L270.59 134.84 L258.12 132.07 Z" fill="#1b1b1d"/><path d="M281.02 74.35 L284.72 75.15 L285.12 78.95 L286.22 82.35 L284.92 83.25 L285.12 84.95 L284.42 85.55 L284.52 86.95 L282.92 88.65 L279.92 87.95 L276.92 87.35 L277.22 89.55 L270.62 88.75 L271.32 83.75 L272.92 81.85 L276.52 78.35 Z" fill="#fff" stroke="#6e6e6e" stroke-width="0.5" stroke-linejoin="round"/><path d="M270.22 77.15 C270.22 75.95 270.3 74.27 270.92 73.15 C271.54 72.04 272.79 71 273.92 70.45 C275.05 69.9 276.42 69.8 277.72 69.85 C279.02 69.9 280.59 70.14 281.72 70.75 C282.85 71.37 284.04 72.89 284.52 73.55 C285 74.22 284.92 74.45 284.62 74.75 C284.32 75.05 283.3 74.89 282.72 75.35 C282.14 75.82 281.55 76.79 281.12 77.55 C280.69 78.32 280.52 79.62 280.12 79.95 C279.72 80.29 279.09 80.02 278.72 79.55 C278.35 79.09 278.32 77.42 277.92 77.15 C277.52 76.89 276.75 77.34 276.32 77.95 C275.89 78.57 275.72 79.92 275.32 80.85 C274.92 81.79 274.42 83.2 273.92 83.55 C273.42 83.9 272.82 83.49 272.32 82.95 C271.82 82.42 271.27 81.32 270.92 80.35 C270.57 79.39 270.22 78.35 270.22 77.15 Z" fill="#1b1b1d"/><path d="M282.32 78.95 l2.4 0.4" stroke="#444" stroke-width="0.8" fill="none"/>
<path d="M348.51 98.81 L346.6 100.44 A2.2 2.2 0 0 0 349.04 104.1 L351.28 102.97 A2.5 2.5 0 0 0 348.51 98.81 Z" fill="#fff" stroke="#707070" stroke-width="0.5"/><path d="M345.56 103.35 L353.46 119.16 A2.2 2.2 0 0 0 357.42 117.26 L350.07 101.19 A2.5 2.5 0 0 0 345.56 103.35 Z" fill="#fff" stroke="#707070" stroke-width="0.5"/><path d="M348.65 99.01 L346.74 100.65 A1.95 1.95 0 0 0 348.9 103.9 L351.14 102.76 A2.25 2.25 0 0 0 348.65 99.01 Z" fill="#fff"/><path d="M345.79 103.24 L353.68 119.05 A1.95 1.95 0 0 0 357.2 117.37 L349.85 101.3 A2.25 2.25 0 0 0 345.79 103.24 Z" fill="#fff"/><path d="M364.71 133.71 C364.23 135.58 364.97 135.17 365.96 135.82 C366.95 136.47 368.92 137.07 370.66 137.63 C372.4 138.18 374.63 138.66 376.41 139.14 C378.18 139.62 380.07 140.33 381.31 140.49 C382.56 140.65 383.05 141.06 383.87 140.12 C384.7 139.18 386.11 136.06 386.27 134.84 C386.43 133.61 385.78 133.55 384.83 132.75 C383.87 131.95 382.07 131.06 380.54 130.04 C379.02 129.01 377.21 127.59 375.66 126.61 C374.12 125.63 372.39 124.5 371.26 124.17 C370.12 123.83 369.94 123.02 368.85 124.61 C367.76 126.2 365.19 131.85 364.71 133.71 Z" fill="#a71f82"/><path d="M380.06 135.1 C379.01 135.91 379.58 136.63 379.74 138.18 C379.9 139.72 380.4 142.3 381 144.36 C381.59 146.42 382.28 148.19 383.29 150.52 C384.3 152.85 385.98 155.92 387.03 158.33 C388.08 160.75 388.97 163.61 389.59 165.01 C390.21 166.42 389.88 166.66 390.74 166.75 C391.6 166.84 394.12 166.07 394.76 165.53 C395.4 164.98 394.91 164.98 394.56 163.5 C394.21 162.01 393.28 159.17 392.67 156.61 C392.07 154.06 391.5 150.66 390.94 148.19 C390.38 145.72 389.86 143.89 389.32 141.82 C388.77 139.75 388.23 137.18 387.68 135.76 C387.12 134.34 387.26 133.4 385.99 133.29 C384.72 133.18 381.1 134.28 380.06 135.1 Z" fill="#a71f82"/><path d="M389.81 163.26 C390.62 162.52 392.82 164.02 394.94 163.67 C397.07 163.33 400.88 161.41 402.56 161.18 C404.25 160.95 405.98 160.67 405.06 162.29 C404.13 163.9 399.17 169.26 397.02 170.88 C394.87 172.5 393.32 172.45 392.17 171.99 C391.01 171.53 390.48 169.56 390.09 168.11 C389.7 166.65 389 164 389.81 163.26 Z" fill="#a71f82"/><path d="M380.41 137.97 L387.3 135.87" stroke="#7a155f" stroke-width="0.5" fill="none"/><path d="M353.81 127.63 C351.95 127.08 352.27 127.92 351.46 129.05 C350.65 130.17 349.76 132.41 348.94 134.39 C348.13 136.37 347.31 138.91 346.57 140.92 C345.83 142.94 344.83 145.08 344.49 146.5 C344.15 147.91 343.66 148.47 344.52 149.41 C345.37 150.36 348.39 151.97 349.63 152.15 C350.87 152.34 351.02 151.6 351.98 150.51 C352.94 149.43 354.12 147.38 355.39 145.65 C356.66 143.91 358.38 141.86 359.61 140.1 C360.83 138.35 362.24 136.39 362.74 135.1 C363.25 133.8 364.11 133.6 362.62 132.36 C361.14 131.11 355.67 128.18 353.81 127.63 Z" fill="#3f98a0"/><path d="M349.93 145.96 C349.33 144.8 348.61 145.24 347.2 145.14 C345.79 145.04 343.4 145.12 341.47 145.37 C339.54 145.62 337.85 146.02 335.63 146.63 C333.4 147.24 330.43 148.4 328.12 149.04 C325.82 149.68 323.13 150.09 321.79 150.47 C320.45 150.85 320.26 150.49 320.08 151.32 C319.89 152.16 320.27 154.76 320.68 155.48 C321.09 156.19 321.16 155.71 322.54 155.61 C323.92 155.51 326.6 155.05 328.98 154.88 C331.35 154.7 334.49 154.69 336.78 154.54 C339.08 154.4 340.79 154.18 342.72 153.98 C344.66 153.78 347.04 153.67 348.39 153.36 C349.75 153.04 350.57 153.32 350.83 152.09 C351.09 150.86 350.54 147.11 349.93 145.96 Z" fill="#3f98a0"/><path d="M322.18 150.37 C321.37 149.21 318.48 149.21 317.33 150.09 C316.17 150.97 315.18 152.75 315.25 155.63 C315.32 158.52 316.93 165.8 317.74 167.42 C318.55 169.03 319.36 167.07 320.1 165.34 C320.84 163.6 321.83 159.51 322.18 157.02 C322.52 154.53 322.98 151.52 322.18 150.37 Z" fill="#3f98a0"/><path d="M347.3 145.83 L348.34 152.96" stroke="#2c7178" stroke-width="0.5" fill="none"/><path d="M381.69 109.15 L391.15 94.44 A2.11 2.11 0 0 0 387.64 92.09 L377.7 106.49 A2.4 2.4 0 0 0 381.69 109.15 Z" fill="#fff" stroke="#707070" stroke-width="0.5"/><path d="M381.48 109.01 L390.95 94.3 A1.86 1.86 0 0 0 387.85 92.23 L377.91 106.62 A2.15 2.15 0 0 0 381.48 109.01 Z" fill="#fff"/><circle cx="390.37" cy="91.32" r="2.8" fill="#fff" stroke="#707070" stroke-width="0.5"/><path d="M361.68 89.8 L369.3 88.41 L380.39 101.58 L377.62 106.43 L370.69 101.58 L367.91 119.6 L355.44 118.21 L359.6 101.58 L357.52 97.42 L351.28 102.97 L348.51 98.81 L355.44 93.96 Z" fill="#c2c3c5" stroke="#77787a" stroke-width="0.5" stroke-linejoin="round"/><path d="M355.44 118.21 L367.91 119.6 L369.3 124.45 L363.06 134.84 L351.28 132.07 Z" fill="#1b1b1d"/><path d="M374.88 74.35 L378.58 75.15 L378.98 78.95 L380.08 82.35 L378.78 83.25 L378.98 84.95 L378.28 85.55 L378.38 86.95 L376.78 88.65 L373.78 87.95 L370.78 87.35 L371.08 89.55 L364.48 88.75 L365.18 83.75 L366.78 81.85 L370.38 78.35 Z" fill="#fff" stroke="#6e6e6e" stroke-width="0.5" stroke-linejoin="round"/><path d="M364.08 77.15 C364.08 75.95 364.16 74.27 364.78 73.15 C365.4 72.04 366.65 71 367.78 70.45 C368.91 69.9 370.28 69.8 371.58 69.85 C372.88 69.9 374.45 70.14 375.58 70.75 C376.71 71.37 377.9 72.89 378.38 73.55 C378.86 74.22 378.78 74.45 378.48 74.75 C378.18 75.05 377.16 74.89 376.58 75.35 C376 75.82 375.41 76.79 374.98 77.55 C374.55 78.32 374.38 79.62 373.98 79.95 C373.58 80.29 372.95 80.02 372.58 79.55 C372.21 79.09 372.18 77.42 371.78 77.15 C371.38 76.89 370.61 77.34 370.18 77.95 C369.75 78.57 369.58 79.92 369.18 80.85 C368.78 81.79 368.28 83.2 367.78 83.55 C367.28 83.9 366.68 83.49 366.18 82.95 C365.68 82.42 365.13 81.32 364.78 80.35 C364.43 79.39 364.08 78.35 364.08 77.15 Z" fill="#1b1b1d"/><path d="M376.18 78.95 l2.4 0.4" stroke="#444" stroke-width="0.8" fill="none"/>
<path d="M454.09 99.12 L451.53 102.1 A2.2 2.2 0 0 0 454.64 105.21 L457.62 102.65 A2.5 2.5 0 0 0 454.09 99.12 Z" fill="#fff" stroke="#707070" stroke-width="0.5"/><path d="M450.79 104.64 L457.3 119.08 A2.2 2.2 0 0 0 461.34 117.35 L455.38 102.67 A2.5 2.5 0 0 0 450.79 104.64 Z" fill="#fff" stroke="#707070" stroke-width="0.5"/><path d="M454.26 99.3 L451.7 102.28 A1.95 1.95 0 0 0 454.46 105.04 L457.45 102.48 A2.25 2.25 0 0 0 454.26 99.3 Z" fill="#fff"/><path d="M451.02 104.55 L457.53 118.98 A1.95 1.95 0 0 0 461.11 117.44 L455.15 102.77 A2.25 2.25 0 0 0 451.02 104.55 Z" fill="#fff"/><path d="M462.82 129.93 C461.24 131.06 462.11 131.31 462.49 132.61 C462.88 133.92 464.08 135.95 465.13 137.77 C466.19 139.59 467.68 141.74 468.81 143.52 C469.94 145.31 471.01 147.36 471.91 148.48 C472.81 149.59 472.95 150.3 474.22 150.19 C475.48 150.08 478.6 148.68 479.51 147.82 C480.42 146.95 479.93 146.39 479.67 145 C479.4 143.6 478.52 141.46 477.94 139.43 C477.35 137.4 476.8 134.83 476.17 132.82 C475.55 130.81 474.87 128.54 474.17 127.37 C473.46 126.21 473.83 125.41 471.94 125.83 C470.05 126.26 464.4 128.8 462.82 129.93 Z" fill="#a71f82"/><path d="M472.69 145.54 C471.56 146.21 472.03 146.94 472.01 148.4 C471.98 149.86 472.17 152.32 472.51 154.3 C472.85 156.28 473.33 158.01 474.05 160.28 C474.77 162.56 476.08 165.58 476.83 167.94 C477.58 170.3 478.12 173.06 478.57 174.43 C479.01 175.8 478.66 176.01 479.51 176.16 C480.35 176.32 482.94 175.83 483.63 175.38 C484.33 174.93 483.84 174.89 483.68 173.46 C483.51 172.04 482.92 169.29 482.63 166.84 C482.33 164.4 482.17 161.15 481.91 158.79 C481.65 156.43 481.35 154.67 481.06 152.68 C480.77 150.69 480.54 148.23 480.16 146.85 C479.78 145.47 480.02 144.6 478.78 144.38 C477.53 144.17 473.81 144.87 472.69 145.54 Z" fill="#a71f82"/><path d="M479.42 172.54 C480.2 171.48 482.03 173.93 484.27 173.93 C486.51 173.93 491.08 172.64 492.86 172.54 C494.64 172.45 495.8 172.13 494.94 173.37 C494.09 174.62 489.79 178.5 487.73 180.03 C485.68 181.55 483.97 182.48 482.61 182.52 C481.24 182.57 480.09 181.97 479.56 180.3 C479.03 178.64 478.63 173.61 479.42 172.54 Z" fill="#a71f82"/><path d="M472.69 148.27 L479.77 146.93" stroke="#7a155f" stroke-width="0.5" fill="none"/><path d="M458.76 128.7 C457.04 127.82 457.25 128.66 456.34 129.54 C455.43 130.42 454.31 132.3 453.29 133.96 C452.28 135.63 451.2 137.81 450.25 139.52 C449.3 141.24 448.09 143.02 447.6 144.26 C447.1 145.49 446.57 145.91 447.28 146.95 C447.99 147.99 450.69 150.08 451.87 150.5 C453.04 150.92 453.27 150.27 454.32 149.46 C455.37 148.65 456.73 147 458.16 145.65 C459.58 144.3 461.47 142.75 462.86 141.37 C464.24 139.99 465.83 138.47 466.46 137.38 C467.09 136.29 467.95 136.27 466.67 134.82 C465.38 133.38 460.48 129.58 458.76 128.7 Z" fill="#3f98a0"/><path d="M454.39 146.66 C454.78 145.41 453.95 145.21 453.01 144.14 C452.07 143.07 450.32 141.44 448.77 140.24 C447.22 139.05 445.73 138.14 443.71 137 C441.7 135.85 438.76 134.56 436.66 133.38 C434.56 132.2 432.36 130.58 431.13 129.9 C429.9 129.22 430.03 128.84 429.31 129.3 C428.59 129.76 427.02 131.88 426.81 132.67 C426.59 133.47 426.98 133.17 428.03 134.08 C429.09 134.99 431.33 136.56 433.15 138.12 C434.96 139.68 437.21 141.9 438.95 143.42 C440.69 144.94 442.06 146 443.58 147.23 C445.1 148.46 446.88 150.07 448.07 150.81 C449.25 151.54 449.64 152.33 450.7 151.64 C451.75 150.95 454 147.91 454.39 146.66 Z" fill="#3f98a0"/><path d="M430.49 129.58 C430.03 128.15 428.07 126.53 426.75 126.25 C425.43 125.97 424.28 126.02 422.59 127.91 C420.91 129.81 417.49 135.65 416.63 137.62 C415.78 139.58 416.12 140.04 417.46 139.7 C418.8 139.35 422.66 136.35 424.67 135.54 C426.68 134.73 428.55 135.84 429.52 134.84 C430.49 133.85 430.95 131.01 430.49 129.58 Z" fill="#3f98a0"/><path d="M452.6 144.7 L448.31 150.49" stroke="#2c7178" stroke-width="0.5" fill="none"/><path d="M468.61 88.41 L475.54 89.11 L476.92 101.58 L475.54 111.98 L472.07 119.6 L459.6 118.91 L463.06 105.74 L460.98 101.58 L456.13 106.43 L453.36 102.27 L458.91 95.34 Z" fill="#c2c3c5" stroke="#77787a" stroke-width="0.5" stroke-linejoin="round"/><path d="M459.6 118.91 L472.07 119.6 L474.15 132.77 L465.14 139.7 L455.44 133.46 Z" fill="#1b1b1d"/><path d="M473.14 116.71 L489.81 118.64 A2.11 2.11 0 0 0 490.37 114.46 L473.78 111.95 A2.4 2.4 0 0 0 473.14 116.71 Z" fill="#fff" stroke="#707070" stroke-width="0.5"/><path d="M473.17 116.46 L489.84 118.39 A1.86 1.86 0 0 0 490.34 114.7 L473.74 112.2 A2.15 2.15 0 0 0 473.17 116.46 Z" fill="#fff"/><circle cx="491.48" cy="116.83" r="2.6" fill="#fff" stroke="#707070" stroke-width="0.5"/><path d="M469.02 91.19 L475.26 90.77 L476.92 101.58 L475.68 111.98 L471.1 112.67 Z" fill="#c2c3c5" stroke="#77787a" stroke-width="0.5" stroke-linejoin="round"/><path d="M479.73 74.35 L483.43 75.15 L483.83 78.95 L484.93 82.35 L483.63 83.25 L483.83 84.95 L483.13 85.55 L483.23 86.95 L481.63 88.65 L478.63 87.95 L475.63 87.35 L475.93 89.55 L469.33 88.75 L470.03 83.75 L471.63 81.85 L475.23 78.35 Z" fill="#fff" stroke="#6e6e6e" stroke-width="0.5" stroke-linejoin="round"/><path d="M468.93 77.15 C468.93 75.95 469.01 74.27 469.63 73.15 C470.25 72.04 471.5 71 472.63 70.45 C473.76 69.9 475.13 69.8 476.43 69.85 C477.73 69.9 479.3 70.14 480.43 70.75 C481.56 71.37 482.75 72.89 483.23 73.55 C483.71 74.22 483.63 74.45 483.33 74.75 C483.03 75.05 482.01 74.89 481.43 75.35 C480.85 75.82 480.26 76.79 479.83 77.55 C479.4 78.32 479.23 79.62 478.83 79.95 C478.43 80.29 477.8 80.02 477.43 79.55 C477.06 79.09 477.03 77.42 476.63 77.15 C476.23 76.89 475.46 77.34 475.03 77.95 C474.6 78.57 474.43 79.92 474.03 80.85 C473.63 81.79 473.13 83.2 472.63 83.55 C472.13 83.9 471.53 83.49 471.03 82.95 C470.53 82.42 469.98 81.32 469.63 80.35 C469.28 79.39 468.93 78.35 468.93 77.15 Z" fill="#1b1b1d"/><path d="M481.03 78.95 l2.4 0.4" stroke="#444" stroke-width="0.8" fill="none"/>
<path d="M566.33 115.33 L580.04 106.78 A2.02 2.02 0 0 0 577.96 103.31 L563.96 111.39 A2.3 2.3 0 0 0 566.33 115.33 Z" fill="#fff" stroke="#707070" stroke-width="0.5"/><path d="M566.2 115.12 L579.91 106.57 A1.77 1.77 0 0 0 578.09 103.52 L564.09 111.6 A2.05 2.05 0 0 0 566.2 115.12 Z" fill="#fff"/><circle cx="580.67" cy="103.8" r="2.6" fill="#fff" stroke="#707070" stroke-width="0.5"/><path d="M549.63 133.34 C547.75 133.78 548.47 134.2 548.36 135.3 C548.26 136.4 548.66 138.27 549 139.94 C549.33 141.6 549.96 143.64 550.38 145.3 C550.8 146.96 551.07 148.81 551.51 149.9 C551.96 150.98 551.83 151.56 553.05 151.82 C554.27 152.07 557.68 151.82 558.84 151.4 C559.99 150.98 559.74 150.43 559.99 149.29 C560.24 148.16 560.18 146.29 560.36 144.59 C560.53 142.88 560.94 140.77 561.06 139.07 C561.19 137.37 561.37 135.46 561.13 134.39 C560.89 133.31 561.52 132.8 559.6 132.63 C557.68 132.45 551.5 132.89 549.63 133.34 Z" fill="#a71f82"/><path d="M554.4 146.46 C553.09 146.3 553 147.2 552.04 148.38 C551.09 149.55 549.67 151.69 548.68 153.53 C547.68 155.36 546.95 157.07 546.07 159.39 C545.18 161.7 544.27 164.99 543.35 167.39 C542.44 169.79 541.1 172.39 540.57 173.79 C540.05 175.19 539.64 175.13 540.2 175.79 C540.76 176.45 543.1 177.67 543.93 177.74 C544.75 177.8 544.41 177.47 545.18 176.2 C545.96 174.93 547.25 172.31 548.58 170.12 C549.91 167.94 551.86 165.18 553.16 163.09 C554.46 161 555.35 159.37 556.39 157.55 C557.43 155.74 558.82 153.59 559.4 152.22 C559.99 150.85 560.73 150.29 559.89 149.34 C559.06 148.38 555.71 146.62 554.4 146.46 Z" fill="#a71f82"/><path d="M540.89 172.96 C539.45 173.37 537.72 176.4 537.42 177.81 C537.12 179.22 536.43 180.72 539.09 181.41 C541.74 182.11 550.87 182.29 553.36 181.97 C555.86 181.64 555.28 180.58 554.05 179.47 C552.83 178.36 548.21 176.4 546.02 175.32 C543.82 174.23 542.32 172.54 540.89 172.96 Z" fill="#a71f82"/><path d="M552.67 148.7 L559.05 152.03" stroke="#7a155f" stroke-width="0.5" fill="none"/><path d="M559.6 88.41 L566.81 89.11 L568.19 96.04 L566.81 109.9 L563.06 119.88 L550.59 117.93 L554.75 106.43 L547.12 104.35 L555.44 93.96 Z" fill="#c2c3c5" stroke="#77787a" stroke-width="0.5" stroke-linejoin="round"/><path d="M550.59 117.93 L563.06 119.88 L567.91 127.91 L559.6 134.43 L548.79 135.81 L547.4 125.14 Z" fill="#1b1b1d"/><path d="M565.14 133.46 L575.54 143.16 L561.68 144.82 L562.37 141.08 Z" fill="#3f98a0"/><path d="M558.7 131.86 C557.52 133.39 558.37 133.31 559.03 134.3 C559.69 135.3 561.27 136.64 562.66 137.84 C564.05 139.05 565.92 140.39 567.37 141.54 C568.83 142.69 570.29 144.09 571.37 144.74 C572.46 145.39 572.75 145.96 573.89 145.42 C575.02 144.88 577.55 142.58 578.17 141.51 C578.8 140.44 578.23 140.13 577.66 139.01 C577.09 137.9 575.77 136.35 574.77 134.8 C573.76 133.25 572.65 131.21 571.6 129.69 C570.55 128.17 569.41 126.44 568.49 125.68 C567.57 124.92 567.72 124.1 566.09 125.13 C564.46 126.16 559.87 130.33 558.7 131.86 Z" fill="#3f98a0"/><path d="M577.73 139.26 C577.22 138.04 576.42 138.41 574.95 138.17 C573.48 137.93 570.96 137.77 568.92 137.82 C566.87 137.86 565.05 138.09 562.65 138.47 C560.25 138.85 557 139.7 554.51 140.1 C552.02 140.5 549.16 140.64 547.71 140.88 C546.26 141.12 546.11 140.74 545.82 141.56 C545.53 142.37 545.64 145 545.99 145.75 C546.34 146.5 546.46 146.03 547.92 146.07 C549.38 146.11 552.24 145.93 554.75 146 C557.26 146.06 560.56 146.38 562.98 146.46 C565.4 146.55 567.22 146.51 569.27 146.51 C571.32 146.51 573.83 146.64 575.28 146.46 C576.74 146.29 577.57 146.65 577.98 145.45 C578.38 144.25 578.23 140.47 577.73 139.26 Z" fill="#3f98a0"/><path d="M547.82 140.8 C546.89 139.65 543.13 139.26 541.86 140.11 C540.59 140.97 540.12 143.07 540.19 145.93 C540.26 148.8 541.46 155.87 542.27 157.3 C543.08 158.73 544.19 156.23 545.05 154.53 C545.9 152.82 546.94 149.33 547.4 147.04 C547.86 144.75 548.74 141.96 547.82 140.8 Z" fill="#3f98a0"/><path d="M574.98 138.87 L575.27 146.06" stroke="#2c7178" stroke-width="0.5" fill="none"/><path d="M544.84 105.2 L552.98 119.2 A2.02 2.02 0 0 0 556.51 117.22 L548.85 102.95 A2.3 2.3 0 0 0 544.84 105.2 Z" fill="#fff" stroke="#707070" stroke-width="0.5"/><path d="M552.71 119.27 L556.69 126.35 A2.02 2.02 0 0 0 560.29 124.49 L556.79 117.15 A2.3 2.3 0 0 0 552.71 119.27 Z" fill="#fff" stroke="#707070" stroke-width="0.5"/><path d="M545.06 105.07 L553.2 119.08 A1.77 1.77 0 0 0 556.3 117.35 L548.64 103.07 A2.05 2.05 0 0 0 545.06 105.07 Z" fill="#fff"/><path d="M552.93 119.16 L556.91 126.24 A1.77 1.77 0 0 0 560.06 124.6 L556.57 117.27 A2.05 2.05 0 0 0 552.93 119.16 Z" fill="#fff"/><path d="M547.12 104.35 L555.44 93.96 L563.06 89.8 L564.45 94.65 L558.21 101.58 L552.67 107.82 Z" fill="#c2c3c5" stroke="#77787a" stroke-width="0.5" stroke-linejoin="round"/><path d="M570.31 74.35 L574.01 75.15 L574.41 78.95 L575.51 82.35 L574.21 83.25 L574.41 84.95 L573.71 85.55 L573.81 86.95 L572.21 88.65 L569.21 87.95 L566.21 87.35 L566.51 89.55 L559.91 88.75 L560.61 83.75 L562.21 81.85 L565.81 78.35 Z" fill="#fff" stroke="#6e6e6e" stroke-width="0.5" stroke-linejoin="round"/><path d="M559.51 77.15 C559.51 75.95 559.59 74.27 560.21 73.15 C560.82 72.04 562.07 71 563.21 70.45 C564.34 69.9 565.71 69.8 567.01 69.85 C568.31 69.9 569.87 70.14 571.01 70.75 C572.14 71.37 573.32 72.89 573.81 73.55 C574.29 74.22 574.21 74.45 573.91 74.75 C573.61 75.05 572.59 74.89 572.01 75.35 C571.42 75.82 570.84 76.79 570.41 77.55 C569.97 78.32 569.81 79.62 569.41 79.95 C569.01 80.29 568.37 80.02 568.01 79.55 C567.64 79.09 567.61 77.42 567.21 77.15 C566.81 76.89 566.04 77.34 565.61 77.95 C565.17 78.57 565.01 79.92 564.61 80.85 C564.21 81.79 563.71 83.2 563.21 83.55 C562.71 83.9 562.11 83.49 561.61 82.95 C561.11 82.42 560.56 81.32 560.21 80.35 C559.86 79.39 559.51 78.35 559.51 77.15 Z" fill="#1b1b1d"/><path d="M571.61 78.95 l2.4 0.4" stroke="#444" stroke-width="0.8" fill="none"/>
<path d="M661.27 114.31 L678.44 102.57 A2.02 2.02 0 0 0 676.2 99.2 L658.72 110.47 A2.3 2.3 0 0 0 661.27 114.31 Z" fill="#fff" stroke="#707070" stroke-width="0.5"/><path d="M661.13 114.1 L678.3 102.36 A1.77 1.77 0 0 0 676.34 99.41 L658.86 110.68 A2.05 2.05 0 0 0 661.13 114.1 Z" fill="#fff"/><circle cx="679.4" cy="99.92" r="2.8" fill="#fff" stroke="#707070" stroke-width="0.5"/><path d="M641.62 127.71 C639.74 127.21 640.08 128.05 639.3 129.21 C638.52 130.37 637.67 132.65 636.91 134.67 C636.14 136.69 635.39 139.27 634.7 141.32 C634 143.38 633.06 145.57 632.75 147 C632.44 148.44 631.97 149.01 632.85 149.94 C633.73 150.86 636.79 152.38 638.04 152.53 C639.29 152.67 639.42 151.93 640.35 150.8 C641.29 149.68 642.41 147.58 643.64 145.79 C644.87 144.01 646.55 141.89 647.73 140.08 C648.91 138.27 650.28 136.25 650.75 134.93 C651.22 133.62 652.08 133.38 650.56 132.18 C649.04 130.97 643.49 128.2 641.62 127.71 Z" fill="#a71f82"/><path d="M636.08 145.67 C634.91 145.07 634.53 145.88 633.25 146.64 C631.96 147.41 629.93 148.92 628.39 150.29 C626.85 151.66 625.6 153.01 624.01 154.86 C622.41 156.7 620.47 159.46 618.81 161.38 C617.16 163.31 615.05 165.27 614.09 166.4 C613.14 167.52 612.78 167.33 613.08 168.14 C613.39 168.94 615.17 170.88 615.92 171.23 C616.68 171.58 616.46 171.14 617.61 170.23 C618.76 169.31 620.84 167.31 622.8 165.73 C624.77 164.15 627.5 162.25 629.41 160.75 C631.33 159.24 632.7 158.03 634.27 156.7 C635.85 155.37 637.86 153.84 638.86 152.76 C639.86 151.68 640.74 151.42 640.27 150.24 C639.81 149.06 637.25 146.27 636.08 145.67 Z" fill="#a71f82"/><path d="M614.95 166.44 C613.56 166.21 611.55 168.06 611.21 169.49 C610.86 170.93 611.71 172.87 612.87 175.04 C614.02 177.21 616.63 181.55 618.14 182.52 C619.64 183.49 621.65 182.8 621.88 180.86 C622.11 178.92 620.68 173.28 619.52 170.88 C618.37 168.48 616.33 166.68 614.95 166.44 Z" fill="#a71f82"/><path d="M633.72 147.16 L638.59 152.47" stroke="#7a155f" stroke-width="0.5" fill="none"/><path d="M650.98 89.11 L657.91 88.41 L660.69 98.81 L662.77 107.12 L659.3 109.9 L654.45 120.98 L642.67 118.21 L646.83 101.58 L637.12 100.19 L645.44 93.26 Z" fill="#c2c3c5" stroke="#77787a" stroke-width="0.5" stroke-linejoin="round"/><path d="M642.67 118.21 L654.45 120.98 L658.61 125.14 L652.37 134.84 L639.9 132.07 Z" fill="#1b1b1d"/><path d="M653.15 133.46 C652.51 135.28 653.25 134.91 654.14 135.6 C655.02 136.3 656.83 136.99 658.44 137.62 C660.05 138.26 662.13 138.85 663.77 139.42 C665.42 139.98 667.15 140.78 668.32 141 C669.49 141.23 669.91 141.65 670.79 140.77 C671.67 139.88 673.32 136.89 673.59 135.68 C673.86 134.48 673.24 134.39 672.41 133.55 C671.58 132.72 669.95 131.74 668.59 130.65 C667.23 129.57 665.65 128.07 664.27 127.02 C662.89 125.98 661.36 124.77 660.31 124.39 C659.25 124 659.16 123.18 657.97 124.7 C656.77 126.21 653.79 131.64 653.15 133.46 Z" fill="#3f98a0"/><path d="M668.24 134.42 C666.97 134.8 667.23 135.71 666.8 137.25 C666.36 138.79 665.87 141.46 665.65 143.67 C665.43 145.87 665.41 147.84 665.47 150.46 C665.54 153.08 665.95 156.66 666.02 159.38 C666.09 162.1 665.85 165.19 665.9 166.77 C665.95 168.35 665.55 168.47 666.32 168.88 C667.09 169.29 669.71 169.51 670.5 169.23 C671.3 168.96 670.84 168.77 671.08 167.21 C671.31 165.65 671.51 162.56 671.9 159.88 C672.3 157.2 673.04 153.71 673.45 151.13 C673.85 148.55 674.05 146.6 674.32 144.4 C674.59 142.21 675.05 139.53 675.07 137.95 C675.08 136.38 675.56 135.53 674.42 134.94 C673.28 134.35 669.51 134.03 668.24 134.42 Z" fill="#3f98a0"/><path d="M666.23 166.03 C664.91 166.65 663.76 168.96 663.87 170.19 C663.99 171.41 664.22 173.07 666.92 173.37 C669.63 173.68 677.83 172.52 680.09 171.99 C682.35 171.46 681.89 171.11 680.51 170.19 C679.12 169.26 674.15 167.14 671.77 166.44 C669.39 165.75 667.55 165.41 666.23 166.03 Z" fill="#3f98a0"/><path d="M667.49 137.31 L674.67 137.92" stroke="#2c7178" stroke-width="0.5" fill="none"/><path d="M634.7 101.71 L641.47 118.66 A2.02 2.02 0 0 0 645.25 117.21 L639 100.07 A2.3 2.3 0 0 0 634.7 101.71 Z" fill="#fff" stroke="#707070" stroke-width="0.5"/><path d="M641.18 118.68 L643.52 124.69 A2.02 2.02 0 0 0 647.36 123.38 L645.54 117.19 A2.3 2.3 0 0 0 641.18 118.68 Z" fill="#fff" stroke="#707070" stroke-width="0.5"/><path d="M634.93 101.62 L641.7 118.57 A1.77 1.77 0 0 0 645.02 117.3 L638.76 100.16 A2.05 2.05 0 0 0 634.93 101.62 Z" fill="#fff"/><path d="M641.42 118.6 L643.76 124.61 A1.77 1.77 0 0 0 647.12 123.46 L645.3 117.27 A2.05 2.05 0 0 0 641.42 118.6 Z" fill="#fff"/><path d="M637.12 100.19 L645.44 93.26 L654.45 89.38 L656.25 94.65 L648.21 100.19 L641.98 105.74 Z" fill="#c2c3c5" stroke="#77787a" stroke-width="0.5" stroke-linejoin="round"/><path d="M662.8 74.35 L666.5 75.15 L666.9 78.95 L668 82.35 L666.7 83.25 L666.9 84.95 L666.2 85.55 L666.3 86.95 L664.7 88.65 L661.7 87.95 L658.7 87.35 L659 89.55 L652.4 88.75 L653.1 83.75 L654.7 81.85 L658.3 78.35 Z" fill="#fff" stroke="#6e6e6e" stroke-width="0.5" stroke-linejoin="round"/><path d="M652 77.15 C652 75.95 652.08 74.27 652.7 73.15 C653.32 72.04 654.57 71 655.7 70.45 C656.83 69.9 658.2 69.8 659.5 69.85 C660.8 69.9 662.37 70.14 663.5 70.75 C664.63 71.37 665.82 72.89 666.3 73.55 C666.78 74.22 666.7 74.45 666.4 74.75 C666.1 75.05 665.08 74.89 664.5 75.35 C663.92 75.82 663.33 76.79 662.9 77.55 C662.47 78.32 662.3 79.62 661.9 79.95 C661.5 80.29 660.87 80.02 660.5 79.55 C660.13 79.09 660.1 77.42 659.7 77.15 C659.3 76.89 658.53 77.34 658.1 77.95 C657.67 78.57 657.5 79.92 657.1 80.85 C656.7 81.79 656.2 83.2 655.7 83.55 C655.2 83.9 654.6 83.49 654.1 82.95 C653.6 82.42 653.05 81.32 652.7 80.35 C652.35 79.39 652 78.35 652 77.15 Z" fill="#1b1b1d"/><path d="M664.1 78.95 l2.4 0.4" stroke="#444" stroke-width="0.8" fill="none"/>
<path d="M765.16 108.96 L773.23 94.27 A2.02 2.02 0 0 0 769.72 92.26 L761.16 106.68 A2.3 2.3 0 0 0 765.16 108.96 Z" fill="#fff" stroke="#707070" stroke-width="0.5"/><path d="M764.94 108.83 L773.02 94.14 A1.77 1.77 0 0 0 769.94 92.38 L761.38 106.8 A2.05 2.05 0 0 0 764.94 108.83 Z" fill="#fff"/><circle cx="772.58" cy="91.05" r="2.8" fill="#fff" stroke="#707070" stroke-width="0.5"/><path d="M736.17 127.63 C734.31 127.08 734.63 127.92 733.82 129.05 C733.01 130.17 732.11 132.41 731.3 134.39 C730.48 136.37 729.67 138.91 728.93 140.92 C728.19 142.94 727.19 145.08 726.85 146.5 C726.51 147.91 726.02 148.47 726.87 149.41 C727.73 150.36 730.74 151.97 731.99 152.15 C733.23 152.34 733.38 151.6 734.34 150.51 C735.3 149.43 736.47 147.38 737.74 145.65 C739.01 143.91 740.74 141.86 741.96 140.1 C743.19 138.35 744.6 136.39 745.1 135.1 C745.6 133.8 746.47 133.6 744.98 132.36 C743.49 131.11 738.03 128.18 736.17 127.63 Z" fill="#a71f82"/><path d="M732.29 145.96 C731.68 144.8 730.96 145.24 729.55 145.14 C728.14 145.04 725.75 145.12 723.82 145.37 C721.9 145.62 720.21 146.02 717.98 146.63 C715.76 147.24 712.79 148.4 710.48 149.04 C708.17 149.68 705.48 150.09 704.14 150.47 C702.8 150.85 702.62 150.49 702.43 151.32 C702.25 152.16 702.63 154.76 703.04 155.48 C703.45 156.19 703.51 155.71 704.89 155.61 C706.28 155.51 708.96 155.05 711.33 154.88 C713.71 154.7 716.85 154.69 719.14 154.54 C721.43 154.4 723.15 154.18 725.08 153.98 C727.02 153.78 729.4 153.67 730.75 153.36 C732.1 153.04 732.93 153.32 733.19 152.09 C733.44 150.86 732.9 147.11 732.29 145.96 Z" fill="#a71f82"/><path d="M704.53 150.37 C703.72 149.21 700.84 149.21 699.68 150.09 C698.53 150.97 697.53 152.75 697.6 155.63 C697.67 158.52 699.29 165.8 700.1 167.42 C700.91 169.03 701.71 167.07 702.45 165.34 C703.19 163.6 704.19 159.51 704.53 157.02 C704.88 154.53 705.34 151.52 704.53 150.37 Z" fill="#a71f82"/><path d="M729.65 145.83 L730.69 152.96" stroke="#7a155f" stroke-width="0.5" fill="none"/><path d="M745.14 89.38 L752.07 88.41 L755.54 96.04 L762.47 102.27 L760.11 106.43 L753.18 102.27 L749.99 119.88 L737.52 118.21 L741.68 101.58 L731.28 101.58 L738.21 93.96 Z" fill="#c2c3c5" stroke="#77787a" stroke-width="0.5" stroke-linejoin="round"/><path d="M737.52 118.21 L749.99 119.88 L752.07 124.45 L745.42 134.84 L733.78 132.07 Z" fill="#1b1b1d"/><path d="M747.06 133.71 C746.58 135.58 747.32 135.17 748.31 135.82 C749.31 136.47 751.27 137.07 753.01 137.63 C754.75 138.18 756.99 138.66 758.76 139.14 C760.54 139.62 762.42 140.33 763.67 140.49 C764.91 140.65 765.4 141.06 766.23 140.12 C767.06 139.18 768.47 136.06 768.63 134.84 C768.79 133.61 768.14 133.55 767.18 132.75 C766.23 131.95 764.43 131.06 762.9 130.04 C761.37 129.01 759.57 127.59 758.02 126.61 C756.47 125.63 754.75 124.5 753.61 124.17 C752.48 123.83 752.29 123.02 751.2 124.61 C750.11 126.2 747.55 131.85 747.06 133.71 Z" fill="#3f98a0"/><path d="M762.41 135.1 C761.37 135.91 761.94 136.63 762.1 138.18 C762.25 139.72 762.76 142.3 763.35 144.36 C763.94 146.42 764.64 148.19 765.65 150.52 C766.65 152.85 768.34 155.92 769.39 158.33 C770.43 160.75 771.32 163.61 771.94 165.01 C772.56 166.42 772.24 166.66 773.1 166.75 C773.96 166.84 776.48 166.07 777.12 165.53 C777.75 164.98 777.26 164.98 776.92 163.5 C776.57 162.01 775.63 159.17 775.03 156.61 C774.43 154.06 773.86 150.66 773.3 148.19 C772.74 145.72 772.22 143.89 771.67 141.82 C771.13 139.75 770.59 137.18 770.04 135.76 C769.48 134.34 769.61 133.4 768.34 133.29 C767.07 133.18 763.45 134.28 762.41 135.1 Z" fill="#3f98a0"/><path d="M772.17 163.26 C772.98 162.52 775.17 164.02 777.3 163.67 C779.42 163.33 783.23 161.41 784.92 161.18 C786.61 160.95 788.34 160.67 787.42 162.29 C786.49 163.9 781.52 169.26 779.38 170.88 C777.23 172.5 775.68 172.45 774.53 171.99 C773.37 171.53 772.84 169.56 772.45 168.11 C772.05 166.65 771.36 164 772.17 163.26 Z" fill="#3f98a0"/><path d="M762.77 137.97 L769.65 135.87" stroke="#2c7178" stroke-width="0.5" fill="none"/><path d="M728.9 103.2 L736.36 119.44 A2.02 2.02 0 0 0 740.06 117.81 L733.11 101.35 A2.3 2.3 0 0 0 728.9 103.2 Z" fill="#fff" stroke="#707070" stroke-width="0.5"/><path d="M736.02 119.33 L738.36 125.76 A2.02 2.02 0 0 0 742.22 124.53 L740.4 117.93 A2.3 2.3 0 0 0 736.02 119.33 Z" fill="#fff" stroke="#707070" stroke-width="0.5"/><path d="M729.13 103.1 L736.59 119.34 A1.77 1.77 0 0 0 739.84 117.91 L732.88 101.45 A2.05 2.05 0 0 0 729.13 103.1 Z" fill="#fff"/><path d="M736.26 119.25 L738.6 125.68 A1.77 1.77 0 0 0 741.98 124.6 L740.17 118 A2.05 2.05 0 0 0 736.26 119.25 Z" fill="#fff"/><path d="M731.28 101.58 L738.21 93.96 L747.91 89.8 L749.58 94.65 L742.37 100.19 L735.44 106.43 Z" fill="#c2c3c5" stroke="#77787a" stroke-width="0.5" stroke-linejoin="round"/><path d="M757.24 74.35 L760.94 75.15 L761.34 78.95 L762.44 82.35 L761.14 83.25 L761.34 84.95 L760.64 85.55 L760.74 86.95 L759.14 88.65 L756.14 87.95 L753.14 87.35 L753.44 89.55 L746.84 88.75 L747.54 83.75 L749.14 81.85 L752.74 78.35 Z" fill="#fff" stroke="#6e6e6e" stroke-width="0.5" stroke-linejoin="round"/><path d="M746.44 77.15 C746.44 75.95 746.52 74.27 747.14 73.15 C747.75 72.04 749 71 750.14 70.45 C751.27 69.9 752.64 69.8 753.94 69.85 C755.24 69.9 756.8 70.14 757.94 70.75 C759.07 71.37 760.25 72.89 760.74 73.55 C761.22 74.22 761.14 74.45 760.84 74.75 C760.54 75.05 759.52 74.89 758.94 75.35 C758.35 75.82 757.77 76.79 757.34 77.55 C756.9 78.32 756.74 79.62 756.34 79.95 C755.94 80.29 755.3 80.02 754.94 79.55 C754.57 79.09 754.54 77.42 754.14 77.15 C753.74 76.89 752.97 77.34 752.54 77.95 C752.1 78.57 751.94 79.92 751.54 80.85 C751.14 81.79 750.64 83.2 750.14 83.55 C749.64 83.9 749.04 83.49 748.54 82.95 C748.04 82.42 747.49 81.32 747.14 80.35 C746.79 79.39 746.44 78.35 746.44 77.15 Z" fill="#1b1b1d"/><path d="M758.54 78.95 l2.4 0.4" stroke="#444" stroke-width="0.8" fill="none"/>
<path d="M856.1 115.18 L869.34 118.1 A2.02 2.02 0 0 0 870.29 114.17 L857.19 110.71 A2.3 2.3 0 0 0 856.1 115.18 Z" fill="#fff" stroke="#707070" stroke-width="0.5"/><path d="M856.16 114.94 L869.4 117.86 A1.77 1.77 0 0 0 870.23 114.41 L857.13 110.95 A2.05 2.05 0 0 0 856.16 114.94 Z" fill="#fff"/><circle cx="871.48" cy="116.83" r="2.6" fill="#fff" stroke="#707070" stroke-width="0.5"/><path d="M841.53 128.7 C839.81 127.82 840.02 128.66 839.11 129.54 C838.2 130.42 837.08 132.3 836.06 133.96 C835.05 135.63 833.97 137.81 833.02 139.52 C832.07 141.24 830.87 143.02 830.37 144.26 C829.88 145.49 829.34 145.91 830.05 146.95 C830.77 147.99 833.47 150.08 834.64 150.5 C835.81 150.92 836.04 150.27 837.09 149.46 C838.14 148.65 839.51 147 840.93 145.65 C842.35 144.3 844.25 142.75 845.63 141.37 C847.01 139.99 848.6 138.47 849.23 137.38 C849.87 136.29 850.72 136.27 849.44 134.82 C848.16 133.38 843.25 129.58 841.53 128.7 Z" fill="#a71f82"/><path d="M837.16 146.66 C837.55 145.41 836.72 145.21 835.78 144.14 C834.85 143.07 833.09 141.44 831.54 140.24 C829.99 139.05 828.5 138.14 826.49 137 C824.47 135.85 821.53 134.56 819.43 133.38 C817.34 132.2 815.13 130.58 813.9 129.9 C812.68 129.22 812.8 128.84 812.08 129.3 C811.36 129.76 809.79 131.88 809.58 132.67 C809.37 133.47 809.75 133.17 810.8 134.08 C811.86 134.99 814.1 136.56 815.92 138.12 C817.74 139.68 819.98 141.9 821.72 143.42 C823.46 144.94 824.83 146 826.35 147.23 C827.87 148.46 829.65 150.07 830.84 150.81 C832.03 151.54 832.41 152.33 833.47 151.64 C834.52 150.95 836.78 147.91 837.16 146.66 Z" fill="#a71f82"/><path d="M813.26 129.58 C812.8 128.15 810.84 126.53 809.52 126.25 C808.21 125.97 807.05 126.02 805.36 127.91 C803.68 129.81 800.26 135.65 799.4 137.62 C798.55 139.58 798.9 140.04 800.24 139.7 C801.58 139.35 805.43 136.35 807.44 135.54 C809.45 134.73 811.32 135.84 812.29 134.84 C813.26 133.85 813.73 131.01 813.26 129.58 Z" fill="#a71f82"/><path d="M835.37 144.7 L831.08 150.49" stroke="#7a155f" stroke-width="0.5" fill="none"/><path d="M845.59 129.93 C844.02 131.06 844.88 131.31 845.26 132.61 C845.65 133.92 846.85 135.95 847.91 137.77 C848.96 139.59 850.45 141.74 851.58 143.52 C852.71 145.31 853.78 147.36 854.68 148.48 C855.58 149.59 855.72 150.3 856.99 150.19 C858.25 150.08 861.37 148.68 862.28 147.82 C863.19 146.95 862.7 146.39 862.44 145 C862.18 143.6 861.29 141.46 860.71 139.43 C860.13 137.4 859.57 134.83 858.95 132.82 C858.32 130.81 857.65 128.54 856.94 127.37 C856.24 126.21 856.61 125.41 854.72 125.83 C852.82 126.26 847.17 128.8 845.59 129.93 Z" fill="#3f98a0"/><path d="M855.46 145.54 C854.33 146.21 854.81 146.94 854.78 148.4 C854.75 149.86 854.94 152.32 855.29 154.3 C855.63 156.28 856.11 158.01 856.83 160.28 C857.55 162.56 858.85 165.58 859.6 167.94 C860.35 170.3 860.89 173.06 861.34 174.43 C861.79 175.8 861.43 176.01 862.28 176.16 C863.12 176.32 865.71 175.83 866.4 175.38 C867.1 174.93 866.62 174.89 866.45 173.46 C866.28 172.04 865.69 169.29 865.4 166.84 C865.1 164.4 864.95 161.15 864.69 158.79 C864.43 156.43 864.13 154.67 863.83 152.68 C863.54 150.69 863.31 148.23 862.93 146.85 C862.55 145.47 862.79 144.6 861.55 144.38 C860.3 144.17 856.59 144.87 855.46 145.54 Z" fill="#3f98a0"/><path d="M862.19 172.54 C862.98 171.48 864.8 173.93 867.04 173.93 C869.28 173.93 873.86 172.64 875.63 172.54 C877.41 172.45 878.57 172.13 877.71 173.37 C876.86 174.62 872.56 178.5 870.51 180.03 C868.45 181.55 866.74 182.48 865.38 182.52 C864.01 182.57 862.86 181.97 862.33 180.3 C861.8 178.64 861.4 173.61 862.19 172.54 Z" fill="#3f98a0"/><path d="M855.47 148.27 L862.54 146.93" stroke="#2c7178" stroke-width="0.5" fill="none"/><path d="M834.65 101.06 L835.93 115.59 A2.29 2.29 0 0 0 840.49 115.29 L839.84 100.71 A2.6 2.6 0 0 0 834.65 101.06 Z" fill="#fff" stroke="#707070" stroke-width="0.5"/><path d="M835.68 116.05 L838.48 126.37 A2.29 2.29 0 0 0 842.93 125.3 L840.74 114.83 A2.6 2.6 0 0 0 835.68 116.05 Z" fill="#fff" stroke="#707070" stroke-width="0.5"/><path d="M834.9 101.04 L836.18 115.58 A2.04 2.04 0 0 0 840.25 115.3 L839.59 100.73 A2.35 2.35 0 0 0 834.9 101.04 Z" fill="#fff"/><path d="M835.93 115.99 L838.73 126.31 A2.04 2.04 0 0 0 842.69 125.36 L840.5 114.89 A2.35 2.35 0 0 0 835.93 115.99 Z" fill="#fff"/><path d="M851.1 87.72 L857.62 88.41 L859.83 93.96 L859 105.74 L855.26 119.6 L842.79 118.91 L845.97 105.74 L844.17 100.89 L837.93 102.97 L835.44 99.09 L841.4 93.96 Z" fill="#c2c3c5" stroke="#77787a" stroke-width="0.5" stroke-linejoin="round"/><path d="M856.37 90.21 Q855.68 97.14 845.14 100.47" stroke="#8c8d8f" stroke-width="0.6" fill="none"/><path d="M842.79 118.91 L855.26 119.6 L856.92 132.77 L845.97 136.51 L838.63 134.15 L840.98 127.22 Z" fill="#1b1b1d"/><path d="M862.5 74.35 L866.2 75.15 L866.6 78.95 L867.7 82.35 L866.4 83.25 L866.6 84.95 L865.9 85.55 L866 86.95 L864.4 88.65 L861.4 87.95 L858.4 87.35 L858.7 89.55 L852.1 88.75 L852.8 83.75 L854.4 81.85 L858 78.35 Z" fill="#fff" stroke="#6e6e6e" stroke-width="0.5" stroke-linejoin="round"/><path d="M851.7 77.15 C851.7 75.95 851.79 74.27 852.4 73.15 C853.02 72.04 854.27 71 855.4 70.45 C856.54 69.9 857.9 69.8 859.2 69.85 C860.5 69.9 862.07 70.14 863.2 70.75 C864.34 71.37 865.52 72.89 866 73.55 C866.49 74.22 866.4 74.45 866.1 74.75 C865.8 75.05 864.79 74.89 864.2 75.35 C863.62 75.82 863.04 76.79 862.6 77.55 C862.17 78.32 862 79.62 861.6 79.95 C861.2 80.29 860.57 80.02 860.2 79.55 C859.84 79.09 859.8 77.42 859.4 77.15 C859 76.89 858.24 77.34 857.8 77.95 C857.37 78.57 857.2 79.92 856.8 80.85 C856.4 81.79 855.9 83.2 855.4 83.55 C854.9 83.9 854.3 83.49 853.8 82.95 C853.3 82.42 852.75 81.32 852.4 80.35 C852.05 79.39 851.7 78.35 851.7 77.15 Z" fill="#1b1b1d"/><path d="M863.8 78.95 l2.4 0.4" stroke="#444" stroke-width="0.8" fill="none"/>
<rect x="64.7" y="182" width="811.6" height="3.3" fill="#1a1a1a"/>
<text transform="translate(166.8 217.9) scale(0.86 1)" text-anchor="middle" font-family="Liberation Sans, sans-serif" font-weight="bold" font-size="10.4" fill="#fff">Contact Time Right</text>
<text transform="translate(359.5 217.9) scale(0.86 1)" text-anchor="middle" font-family="Liberation Sans, sans-serif" font-weight="bold" font-size="10.4" fill="#fff">Flight Time Right</text>
<text transform="translate(550.9 217.9) scale(0.86 1)" text-anchor="middle" font-family="Liberation Sans, sans-serif" font-weight="bold" font-size="10.4" fill="#fff">Contact Time Left</text>
<text transform="translate(742.2 217.9) scale(0.86 1)" text-anchor="middle" font-family="Liberation Sans, sans-serif" font-weight="bold" font-size="10.4" fill="#fff">Flight Time Left</text>
<text transform="translate(96.6 241.9) scale(0.87 1)" text-anchor="middle" font-family="Liberation Sans, sans-serif" font-weight="bold" font-size="10.3" fill="#151515">Heelstrike Right</text>
<text transform="translate(238 241.9) scale(0.87 1)" text-anchor="middle" font-family="Liberation Sans, sans-serif" font-weight="bold" font-size="10.3" fill="#151515">Toe Off Right</text>
<text transform="translate(482 241.9) scale(0.87 1)" text-anchor="middle" font-family="Liberation Sans, sans-serif" font-weight="bold" font-size="10.3" fill="#151515">Heelstrike Left</text>
<text transform="translate(620.8 241.9) scale(0.87 1)" text-anchor="middle" font-family="Liberation Sans, sans-serif" font-weight="bold" font-size="10.3" fill="#151515">Toe Off Left</text>
<text transform="translate(864.6 241.9) scale(0.87 1)" text-anchor="middle" font-family="Liberation Sans, sans-serif" font-weight="bold" font-size="10.3" fill="#151515">Heelstrike Right</text>
<text transform="translate(99.3 266.2) scale(0.86 1)" text-anchor="start" font-family="Liberation Sans, sans-serif" font-weight="bold" font-size="8.6" fill="#fff">Contact Phase</text>
<text transform="translate(140.8 286) scale(0.86 1)" text-anchor="start" font-family="Liberation Sans, sans-serif" font-weight="bold" font-size="8.6" fill="#fff">Foot Flat Phase</text>
<text transform="translate(234.9 305.6) scale(0.86 1)" text-anchor="end" font-family="Liberation Sans, sans-serif" font-weight="bold" font-size="8.6" fill="#fff">Propulsive Phase</text>
<text transform="translate(484.7 266.2) scale(0.86 1)" text-anchor="start" font-family="Liberation Sans, sans-serif" font-weight="bold" font-size="8.6" fill="#fff">Contact Phase</text>
<text transform="translate(526.2 286) scale(0.86 1)" text-anchor="start" font-family="Liberation Sans, sans-serif" font-weight="bold" font-size="8.6" fill="#fff">Foot Flat Phase</text>
<text transform="translate(617.7 305.6) scale(0.86 1)" text-anchor="end" font-family="Liberation Sans, sans-serif" font-weight="bold" font-size="8.6" fill="#fff">Propulsive Phase</text>
</svg>
<div class="t" style="left:22.3px;top:38px;font-size:16.8px;line-height:22px;color:#fff">Run Report</div>
<div class="t" style="left:37.4px;top:316.5px;font-size:12.48px">Lengths</div>
<div class="t" style="left:194.2px;top:318.5px">Step length [cm]</div>
<div class="t" style="left:398.2px;top:318.5px">Left</div>
<div class="t v" style="top:318.5px;color:#a93c98">58±2   (CV 3.5%)</div>
<div class="t" style="left:398.2px;top:337.5px">Right</div>
<div class="t v" style="top:337.5px;color:#4faaae">63±2   (CV 3.5%)</div>
<div class="t" style="left:398.2px;top:356.5px">Diff.</div>
<div class="t v" style="top:356.5px;color:#747474">-9.4%</div>
<div class="t" style="left:194.2px;top:375.5px">Stride length [cm]</div>
<div class="t v" style="top:375.5px;color:#7398e8">120±3   (CV 2.4%)</div>
<div class="t" style="left:37.4px;top:413.5px;font-size:12.48px">Time parameters</div>
<div class="t" style="left:194.2px;top:414.5px">Flight time</div>
<div class="t" style="left:398.2px;top:414.5px">Left</div>
<div class="t v" style="top:414.5px;color:#a93c98">0.060±0.010   (CV 16.7%)  [16.9%]</div>
<div class="t" style="left:398.2px;top:433.5px">Right</div>
<div class="t v" style="top:433.5px;color:#4faaae">0.066±0.009   (CV 13.6%)  [17.7%]</div>
<div class="t" style="left:398.2px;top:452.5px">Diff.</div>
<div class="t v" style="top:452.5px;color:#747474">-10.0%</div>
<div class="t" style="left:194.2px;top:471.5px">Contact time</div>
<div class="t" style="left:398.2px;top:471.5px">Left</div>
<div class="t v" style="top:471.5px;color:#a93c98">0.292±0.007   (CV 2.4%)  [83.1%]</div>
<div class="t" style="left:398.2px;top:490.5px">Right</div>
<div class="t v" style="top:490.5px;color:#4faaae">0.305±0.008   (CV 2.6%)  [82.3%]</div>
<div class="t" style="left:398.2px;top:509.5px">Diff.</div>
<div class="t v" style="top:509.5px;color:#747474">-4.5%</div>
<div class="t" style="left:194.2px;top:557.5px">Contact phase</div>
<div class="t" style="left:398.2px;top:557.5px">Left</div>
<div class="t v" style="top:557.5px;color:#a93c98">0.057±0.006   (CV 10.5%)  [19.5%]</div>
<div class="t" style="left:398.2px;top:576.5px">Right</div>
<div class="t v" style="top:576.5px;color:#4faaae">0.054±0.017   (CV 31.5%)  [17.6%]</div>
<div class="t" style="left:398.2px;top:595.5px">Diff.</div>
<div class="t v" style="top:595.5px;color:#747474">5.3%</div>
<div class="t" style="left:194.2px;top:614.5px">Foot flat</div>
<div class="t" style="left:398.2px;top:614.5px">Left</div>
<div class="t v" style="top:614.5px;color:#a93c98">0.112±0.009   (CV 8.0%)  [38.4%]</div>
<div class="t" style="left:398.2px;top:632.5px">Right</div>
<div class="t v" style="top:632.5px;color:#4faaae">0.107±0.018   (CV 16.8%)  [35.2%]</div>
<div class="t" style="left:398.2px;top:651.5px">Diff.</div>
<div class="t v" style="top:651.5px;color:#747474">4.5%</div>
<div class="t" style="left:194.2px;top:670.5px">Propulsive phase</div>
<div class="t" style="left:398.2px;top:670.5px">Left</div>
<div class="t v" style="top:670.5px;color:#a93c98">0.123±0.007   (CV 5.7%)  [42.2%]</div>
<div class="t" style="left:398.2px;top:689.5px">Right</div>
<div class="t v" style="top:689.5px;color:#4faaae">0.144±0.010   (CV 6.9%)  [47.2%]</div>
<div class="t" style="left:398.2px;top:708.5px">Diff.</div>
<div class="t v" style="top:708.5px;color:#747474">-17.1%</div>
<div class="t" style="left:194.2px;top:727.5px">Pace[steps/min]</div>
<div class="t v" style="top:727.5px;color:#7398e8">166.11±5.66   (CV 3.4%)</div>
<div class="t" style="left:193.9px;top:766.5px">Height</div>
<div class="t" style="left:397.9px;top:766.5px">Left</div>
<div class="t v" style="top:766.5px;color:#a93c98">0.4±0.1   (CV 25.0%)</div>
<div class="t" style="left:397.9px;top:785.5px">Right</div>
<div class="t v" style="top:785.5px;color:#4faaae">0.5±0.1   (CV 20.0%)</div>
<div class="t" style="left:397.9px;top:804.5px">Diff.</div>
<div class="t v" style="top:804.5px;color:#747474">-25.0%</div>
<div class="t" style="left:193.9px;top:823.5px">Stride angle</div>
<div class="t" style="left:397.9px;top:823.5px">Left</div>
<div class="t v" style="top:823.5px;color:#a93c98">1.779±0.541   (CV 30.4%)</div>
<div class="t" style="left:397.9px;top:842.5px">Right</div>
<div class="t v" style="top:842.5px;color:#4faaae">1.967±0.505   (CV 25.7%)</div>
<div class="t" style="left:397.9px;top:861.5px">Diff.</div>
<div class="t v" style="top:861.5px;color:#747474">-10.6%</div>
<div class="t" style="left:37.4px;top:898.5px;font-size:12.48px">Speed parameters</div>
<div class="t" style="left:193.5px;top:899.5px">Speed [m/s]</div>
<div class="t" style="left:397.5px;top:899.5px">Left</div>
<div class="t v" style="top:899.5px;color:#a93c98">1.63±0.06   (CV 3.7%)</div>
<div class="t" style="left:397.5px;top:918.5px">Right</div>
<div class="t v" style="top:918.5px;color:#4faaae">1.69±0.06   (CV 3.6%)</div>
<div class="t" style="left:397.5px;top:937.5px">Diff.</div>
<div class="t v" style="top:937.5px;color:#747474">-3.7%</div>
<div class="t" style="left:193.5px;top:956.5px">Average speed [m/s]</div>
<div class="t v" style="top:956.5px;color:#7398e8">1.66±0.07   (CV 4.2%)</div>
</body>
</html>
